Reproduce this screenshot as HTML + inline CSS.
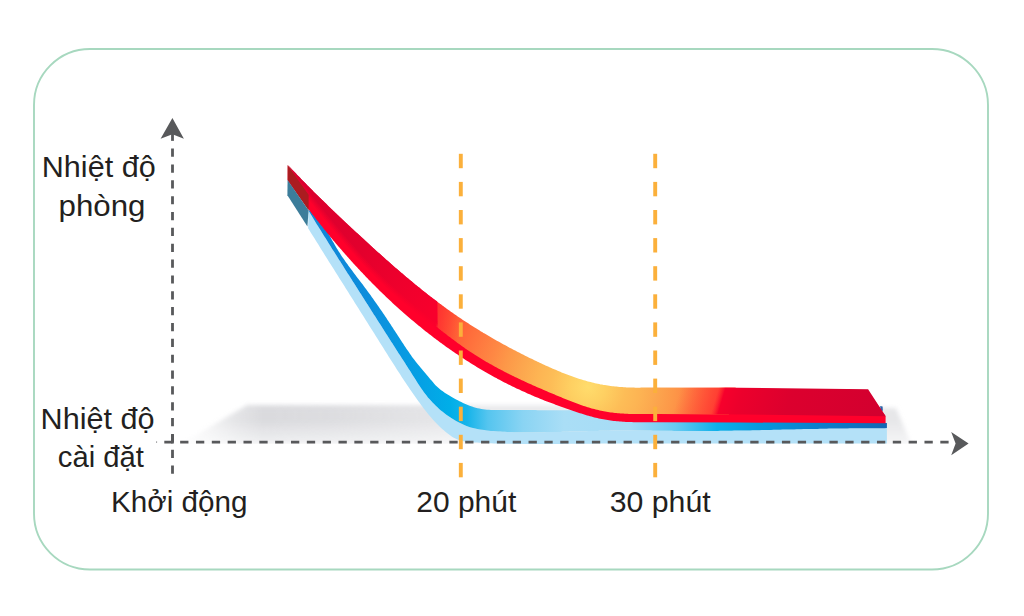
<!DOCTYPE html>
<html><head><meta charset="utf-8"><title>chart</title>
<style>
html,body{margin:0;padding:0;background:#fff;}
body{width:1024px;height:616px;overflow:hidden;font-family:"Liberation Sans",sans-serif;}
svg{display:block}
text{font-family:"Liberation Sans",sans-serif;fill:#231f20;}
</style></head><body>
<svg width="1024" height="616" viewBox="0 0 1024 616">
<defs>
<filter id="blur" x="-10%" y="-40%" width="120%" height="180%"><feGaussianBlur stdDeviation="2.2"/></filter>
<linearGradient id="shv" gradientUnits="userSpaceOnUse" x1="0" y1="404" x2="0" y2="444">
<stop offset="0" stop-color="#cccdd1" stop-opacity="0.72"/><stop offset="0.4" stop-color="#cccdd1" stop-opacity="0.74"/><stop offset="1" stop-color="#cccdd1" stop-opacity="0.28"/>
</linearGradient>
<linearGradient id="shh" gradientUnits="userSpaceOnUse" x1="181" y1="0" x2="931" y2="0">
<stop offset="0" stop-color="#111"/><stop offset="0.035" stop-color="#555"/><stop offset="0.075" stop-color="#bbb"/><stop offset="0.11" stop-color="#fff"/><stop offset="0.2" stop-color="#ececec"/><stop offset="0.33" stop-color="#b8b8b8"/><stop offset="0.4" stop-color="#8c8c8c"/><stop offset="0.9" stop-color="#8c8c8c"/><stop offset="0.94" stop-color="#a8a8a8"/><stop offset="1" stop-color="#a8a8a8"/>
</linearGradient>
<mask id="shm" maskUnits="userSpaceOnUse" x="150" y="380" width="800" height="80"><rect x="150" y="380" width="800" height="80" fill="url(#shh)"/></mask>
<radialGradient id="hot" gradientUnits="userSpaceOnUse" cx="588" cy="387" r="172">
<stop offset="0" stop-color="#ffdc6c"/><stop offset="0.1" stop-color="#fed062"/><stop offset="0.215" stop-color="#fdbd57"/><stop offset="0.3" stop-color="#fdb453"/><stop offset="0.4" stop-color="#fca64e"/><stop offset="0.5" stop-color="#fd9748"/><stop offset="0.58" stop-color="#fe8844"/><stop offset="0.7" stop-color="#ff753e"/><stop offset="0.834" stop-color="#ff6036"/><stop offset="0.92" stop-color="#ff4e33"/><stop offset="1" stop-color="#ff3d30"/>
</radialGradient>
<linearGradient id="hotL" gradientUnits="userSpaceOnUse" x1="435" y1="0" x2="458" y2="0">
<stop offset="0" stop-color="#ff1a2e" stop-opacity="0.85"/><stop offset="0.15" stop-color="#ff2a30" stop-opacity="0.6"/><stop offset="1" stop-color="#ff3430" stop-opacity="0"/>
</linearGradient>
<linearGradient id="hotR" gradientUnits="userSpaceOnUse" x1="680" y1="390" x2="720" y2="402">
<stop offset="0" stop-color="#ff3430" stop-opacity="0"/><stop offset="1" stop-color="#ff3030" stop-opacity="0.85"/>
</linearGradient>
<linearGradient id="crimL" gradientUnits="userSpaceOnUse" x1="290" y1="170" x2="436" y2="310">
<stop offset="0" stop-color="#d8002f"/><stop offset="0.5" stop-color="#e2002d"/><stop offset="1" stop-color="#f8002c"/>
</linearGradient>
<linearGradient id="crimR" gradientUnits="userSpaceOnUse" x1="715.0" y1="400.0" x2="877.9" y2="448.8">
<stop offset="0" stop-color="#ff1c2d" stop-opacity="0"/><stop offset="0.04" stop-color="#f6002c" stop-opacity="1"/><stop offset="0.14" stop-color="#ec002c"/><stop offset="0.42" stop-color="#dc002e"/><stop offset="1" stop-color="#d2002f"/>
</linearGradient>
<linearGradient id="blueg" gradientUnits="userSpaceOnUse" x1="300" y1="0" x2="887" y2="0">
<stop offset="0" stop-color="#1283d6"/><stop offset="0.12" stop-color="#0c8edc"/><stop offset="0.2" stop-color="#059fe4"/><stop offset="0.255" stop-color="#00aee8"/><stop offset="0.285" stop-color="#16b4ea"/><stop offset="0.32" stop-color="#55c5ef"/><stop offset="0.38" stop-color="#8ad4f3"/><stop offset="0.45" stop-color="#aadef6"/><stop offset="0.56" stop-color="#a6dcf6"/><stop offset="0.64" stop-color="#66caf1"/><stop offset="0.71" stop-color="#0db0ea"/><stop offset="0.78" stop-color="#059ade"/><stop offset="0.88" stop-color="#0b7fcc"/><stop offset="1" stop-color="#1466b4"/>
</linearGradient>
<clipPath id="cpL"><polygon points="280,150 436,150 437.5,340 280,340"/></clipPath>
<clipPath id="cpM"><polygon points="435.6,290 760,290 725,430 437.1,430"/></clipPath>
<clipPath id="cpR"><polygon points="700,370 900,370 900,430 700,430"/></clipPath>
</defs>
<rect x="0" y="0" width="1024" height="616" fill="#ffffff"/>
<rect x="34" y="49" width="954" height="520.5" rx="56" ry="56" fill="none" stroke="#a7d8bf" stroke-width="1.9"/>
<!-- shadow -->
<g mask="url(#shm)"><g filter="url(#blur)">
<polygon points="247,405 700,405 896,408 911,444 181,444" fill="url(#shv)"/>
</g></g>
<rect x="150" y="443.8" width="800" height="14" fill="#ffffff"/>
<!-- blue ribbon -->
<path d="M308.5,210.5 L309.7,212.5 L310.9,214.5 L312.1,216.5 L313.3,218.4 L314.5,220.4 L315.7,222.4 L316.9,224.4 L318.1,226.3 L319.3,228.3 L320.6,230.3 L321.8,232.2 L323.0,234.2 L324.2,236.2 L325.5,238.1 L326.7,240.1 L327.9,242.1 L329.1,244.0 L330.4,246.0 L331.6,247.9 L332.8,249.9 L334.1,251.8 L335.3,253.8 L336.6,255.8 L337.8,257.7 L339.0,259.7 L340.3,261.6 L341.5,263.6 L342.8,265.5 L344.0,267.5 L345.2,269.4 L346.5,271.4 L347.7,273.4 L349.0,275.3 L350.2,277.3 L351.5,279.2 L352.7,281.2 L353.9,283.1 L355.2,285.1 L356.4,287.0 L357.7,289.0 L358.9,290.9 L360.2,292.9 L361.4,294.8 L362.6,296.8 L363.9,298.7 L365.1,300.7 L366.4,302.7 L367.6,304.6 L368.8,306.6 L370.1,308.5 L371.3,310.5 L372.6,312.4 L373.8,314.4 L375.1,316.3 L376.3,318.3 L377.5,320.2 L378.8,322.2 L380.0,324.1 L381.3,326.1 L382.5,328.0 L383.8,330.0 L385.0,331.9 L386.3,333.9 L387.5,335.8 L388.7,337.8 L390.0,339.7 L391.2,341.7 L392.5,343.6 L393.7,345.6 L395.0,347.5 L396.2,349.5 L397.5,351.4 L398.7,353.4 L400.0,355.3 L401.2,357.2 L402.5,359.2 L403.7,361.1 L405.0,363.1 L406.2,365.0 L407.5,366.9 L408.7,368.9 L410.0,370.8 L411.2,372.8 L412.4,374.7 L413.7,376.7 L414.9,378.6 L416.1,380.5 L417.3,382.5 L418.6,384.4 L419.8,386.3 L421.1,388.2 L422.4,390.1 L423.7,392.0 L425.1,393.8 L426.5,395.6 L427.9,397.4 L429.4,399.1 L431.0,400.8 L432.5,402.5 L434.1,404.1 L435.8,405.7 L437.5,407.3 L439.2,408.9 L440.9,410.4 L442.7,411.8 L444.5,413.3 L446.4,414.7 L448.3,416.0 L450.2,417.3 L452.1,418.6 L454.1,419.8 L456.1,421.0 L458.1,422.1 L460.1,423.1 L462.2,424.1 L464.3,425.1 L466.5,425.9 L468.6,426.7 L470.8,427.4 L473.0,428.0 L475.2,428.6 L477.4,429.0 L479.7,429.5 L481.9,429.8 L484.2,430.1 L486.5,430.4 L488.7,430.7 L491.0,430.9 L493.3,431.1 L495.6,431.3 L497.9,431.4 L500.2,431.6 L502.5,431.7 L504.8,431.8 L507.2,431.9 L509.5,432.0 L511.8,432.1 L514.1,432.2 L516.4,432.2 L518.7,432.2 L521.1,432.3 L523.4,432.3 L525.7,432.3 L528.0,432.3 L530.3,432.3 L532.7,432.3 L535.0,432.3 L537.3,432.3 L539.6,432.2 L541.9,432.2 L544.3,432.2 L546.6,432.1 L548.9,432.1 L551.2,432.1 L553.5,432.0 L555.8,432.0 L558.2,431.9 L560.5,431.9 L562.8,431.8 L565.1,431.7 L567.4,431.7 L569.7,431.6 L572.0,431.6 L574.4,431.5 L576.7,431.4 L579.0,431.4 L581.3,431.3 L583.6,431.2 L585.9,431.2 L588.2,431.1 L590.6,431.1 L592.9,431.0 L595.2,430.9 L597.5,430.9 L599.8,430.8 L602.1,430.8 L604.4,430.7 L606.8,430.7 L609.1,430.7 L611.4,430.6 L613.7,430.6 L616.0,430.6 L618.3,430.5 L620.6,430.5 L623.0,430.5 L625.3,430.5 L627.6,430.5 L629.9,430.5 L632.2,430.5 L634.5,430.5 L636.8,430.5 L639.2,430.5 L641.5,430.6 L643.8,430.6 L646.1,430.6 L648.4,430.6 L650.7,430.6 L653.1,430.7 L655.4,430.7 L657.7,430.7 L660.0,430.7 L662.3,430.8 L664.6,430.8 L666.9,430.8 L669.3,430.8 L671.6,430.8 L673.9,430.9 L676.2,430.9 L678.5,430.9 L680.8,430.9 L683.2,430.9 L685.5,430.9 L687.8,430.9 L690.1,431.0 L692.4,431.0 L694.7,431.0 L697.1,431.0 L699.4,431.0 L701.7,431.0 L704.0,430.9 L706.3,430.9 L708.6,430.9 L710.9,430.9 L713.3,430.9 L715.6,430.9 L717.9,430.9 L720.2,430.8 L722.5,430.8 L724.8,430.8 L727.1,430.7 L729.5,430.7 L731.8,430.7 L734.1,430.6 L736.4,430.6 L738.7,430.6 L741.0,430.5 L743.4,430.5 L745.7,430.4 L748.0,430.4 L750.3,430.4 L752.6,430.3 L754.9,430.3 L757.2,430.2 L759.6,430.2 L761.9,430.1 L764.2,430.1 L766.5,430.0 L768.8,430.0 L771.1,429.9 L773.5,429.8 L775.8,429.8 L778.1,429.7 L780.4,429.7 L782.7,429.6 L785.0,429.6 L787.3,429.5 L789.7,429.5 L792.0,429.4 L794.3,429.4 L796.6,429.3 L798.9,429.3 L801.2,429.2 L803.5,429.1 L805.9,429.1 L808.2,429.0 L810.5,429.0 L812.8,428.9 L815.1,428.9 L817.4,428.9 L819.8,428.8 L822.1,428.8 L824.4,428.7 L826.7,428.7 L829.0,428.6 L831.3,428.6 L833.6,428.6 L836.0,428.5 L838.3,428.5 L840.6,428.4 L842.9,428.4 L845.2,428.4 L847.5,428.4 L849.9,428.3 L852.2,428.3 L854.5,428.3 L856.8,428.3 L859.1,428.2 L861.4,428.2 L863.7,428.2 L866.1,428.2 L868.4,428.2 L870.7,428.2 L873.0,428.2 L875.3,428.2 L877.6,428.2 L880.0,428.2 L882.3,428.2 L884.6,428.2 L886.9,428.1 L886.9,443.6 L884.5,443.6 L882.0,443.6 L879.6,443.6 L877.1,443.6 L874.7,443.6 L872.3,443.6 L869.8,443.6 L867.4,443.6 L864.9,443.6 L862.5,443.6 L860.1,443.6 L857.6,443.6 L855.2,443.6 L852.7,443.6 L850.3,443.6 L847.8,443.6 L845.4,443.6 L843.0,443.6 L840.5,443.6 L838.1,443.6 L835.6,443.6 L833.2,443.6 L830.8,443.6 L828.3,443.6 L825.9,443.6 L823.4,443.6 L821.0,443.6 L818.6,443.6 L816.1,443.6 L813.7,443.6 L811.2,443.6 L808.8,443.6 L806.4,443.6 L803.9,443.6 L801.5,443.6 L799.0,443.6 L796.6,443.6 L794.1,443.6 L791.7,443.6 L789.3,443.6 L786.8,443.6 L784.4,443.6 L781.9,443.6 L779.5,443.6 L777.1,443.6 L774.6,443.6 L772.2,443.6 L769.7,443.6 L767.3,443.6 L764.9,443.6 L762.4,443.6 L760.0,443.6 L757.5,443.6 L755.1,443.6 L752.6,443.6 L750.2,443.6 L747.8,443.6 L745.3,443.6 L742.9,443.6 L740.4,443.6 L738.0,443.6 L735.6,443.6 L733.1,443.6 L730.7,443.6 L728.2,443.6 L725.8,443.6 L723.4,443.6 L720.9,443.6 L718.5,443.6 L716.0,443.6 L713.6,443.6 L711.2,443.6 L708.7,443.6 L706.3,443.6 L703.8,443.6 L701.4,443.6 L698.9,443.6 L696.5,443.6 L694.1,443.6 L691.6,443.6 L689.2,443.6 L686.7,443.6 L684.3,443.6 L681.9,443.6 L679.4,443.6 L677.0,443.6 L674.5,443.6 L672.1,443.6 L669.7,443.6 L667.2,443.6 L664.8,443.6 L662.3,443.6 L659.9,443.6 L657.5,443.6 L655.0,443.6 L652.6,443.6 L650.1,443.6 L647.7,443.6 L645.3,443.6 L642.8,443.6 L640.4,443.6 L637.9,443.6 L635.5,443.6 L633.1,443.6 L630.6,443.6 L628.2,443.6 L625.7,443.6 L623.3,443.6 L620.8,443.6 L618.4,443.6 L616.0,443.6 L613.5,443.6 L611.1,443.6 L608.6,443.6 L606.2,443.6 L603.8,443.6 L601.3,443.6 L598.9,443.6 L596.4,443.6 L594.0,443.6 L591.5,443.7 L589.1,443.7 L586.7,443.7 L584.2,443.7 L581.8,443.7 L579.3,443.7 L576.9,443.7 L574.4,443.8 L572.0,443.8 L569.5,443.8 L567.1,443.8 L564.7,443.8 L562.2,443.9 L559.8,443.9 L557.3,443.9 L554.9,443.9 L552.4,443.9 L550.0,443.9 L547.6,443.9 L545.1,444.0 L542.7,444.0 L540.2,444.0 L537.8,444.0 L535.3,444.0 L532.9,444.0 L530.5,444.0 L528.0,444.0 L525.6,444.0 L523.1,443.9 L520.7,443.9 L518.3,443.9 L515.8,443.9 L513.4,443.8 L511.0,443.8 L508.5,443.7 L506.1,443.7 L503.7,443.6 L501.2,443.6 L498.8,443.5 L496.4,443.4 L493.9,443.4 L491.5,443.3 L489.1,443.2 L486.7,443.1 L484.2,443.0 L481.8,442.8 L479.4,442.7 L477.0,442.6 L474.6,442.4 L472.2,442.3 L469.7,442.1 L467.4,441.8 L465.0,441.5 L462.7,441.0 L460.4,440.5 L458.1,439.7 L455.9,438.8 L453.8,437.7 L451.7,436.4 L449.7,435.0 L447.7,433.5 L445.7,431.9 L443.8,430.3 L441.9,428.7 L440.1,427.0 L438.3,425.2 L436.6,423.5 L434.9,421.7 L433.2,419.9 L431.6,418.1 L430.0,416.2 L428.5,414.4 L426.9,412.5 L425.4,410.6 L423.9,408.7 L422.5,406.7 L421.0,404.8 L419.6,402.8 L418.2,400.9 L416.8,398.9 L415.4,396.9 L414.0,394.9 L412.6,393.0 L411.2,391.0 L409.8,389.0 L408.5,387.0 L407.1,384.9 L405.8,382.9 L404.4,380.9 L403.1,378.9 L401.7,376.9 L400.4,374.8 L399.1,372.8 L397.7,370.7 L396.4,368.7 L395.1,366.6 L393.8,364.6 L392.5,362.5 L391.2,360.5 L389.9,358.4 L388.6,356.4 L387.3,354.3 L386.0,352.2 L384.7,350.2 L383.4,348.1 L382.1,346.0 L380.8,344.0 L379.5,341.9 L378.2,339.8 L376.9,337.8 L375.6,335.7 L374.3,333.6 L373.0,331.6 L371.7,329.5 L370.4,327.4 L369.1,325.4 L367.8,323.3 L366.5,321.2 L365.2,319.2 L363.9,317.1 L362.6,315.0 L361.3,313.0 L360.0,310.9 L358.7,308.8 L357.4,306.8 L356.1,304.7 L354.8,302.7 L353.5,300.6 L352.2,298.5 L350.9,296.5 L349.6,294.4 L348.3,292.3 L347.0,290.3 L345.7,288.2 L344.4,286.1 L343.1,284.1 L341.8,282.0 L340.5,280.0 L339.2,277.9 L337.9,275.8 L336.6,273.8 L335.3,271.7 L334.0,269.6 L332.7,267.6 L331.4,265.5 L330.1,263.4 L328.8,261.4 L327.5,259.3 L326.2,257.2 L324.9,255.2 L323.6,253.1 L322.3,251.0 L321.0,249.0 L319.8,246.9 L318.5,244.8 L317.2,242.8 L315.9,240.7 L314.6,238.6 L313.3,236.5 L312.0,234.5 L310.7,232.4 L309.4,230.3 L308.1,228.3 Z" fill="#b4e1f8"/>
<path d="M310.0,210.3 L311.5,211.6 L313.0,212.9 L314.4,214.2 L315.8,215.6 L317.1,217.1 L318.3,218.5 L319.5,220.0 L320.7,221.6 L321.8,223.1 L322.9,224.7 L324.0,226.3 L325.0,227.9 L326.0,229.6 L327.0,231.3 L328.0,232.9 L329.0,234.6 L329.9,236.3 L330.9,238.0 L331.8,239.7 L332.8,241.4 L333.8,243.1 L334.7,244.8 L335.7,246.5 L336.7,248.2 L337.7,249.8 L338.7,251.5 L339.8,253.1 L340.8,254.7 L341.9,256.4 L343.0,258.0 L344.1,259.6 L345.2,261.2 L346.3,262.8 L347.5,264.3 L348.6,265.9 L349.8,267.5 L350.9,269.1 L352.1,270.6 L353.3,272.2 L354.4,273.7 L355.6,275.3 L356.8,276.9 L358.0,278.4 L359.2,280.0 L360.3,281.5 L361.5,283.1 L362.7,284.6 L363.9,286.2 L365.0,287.8 L366.2,289.3 L367.4,290.9 L368.5,292.5 L369.7,294.0 L370.8,295.6 L371.9,297.2 L373.1,298.8 L374.2,300.4 L375.3,302.0 L376.4,303.6 L377.6,305.2 L378.7,306.8 L379.8,308.4 L380.9,310.0 L382.0,311.6 L383.1,313.2 L384.2,314.8 L385.3,316.4 L386.4,318.0 L387.4,319.7 L388.5,321.3 L389.6,322.9 L390.7,324.5 L391.7,326.2 L392.8,327.8 L393.8,329.4 L394.9,331.0 L396.0,332.7 L397.0,334.3 L398.1,336.0 L399.1,337.6 L400.2,339.2 L401.2,340.8 L402.3,342.5 L403.4,344.1 L404.4,345.7 L405.5,347.3 L406.6,348.9 L407.7,350.5 L408.8,352.1 L409.9,353.7 L411.0,355.3 L412.1,356.9 L413.3,358.4 L414.5,360.0 L415.6,361.5 L416.8,363.0 L418.0,364.6 L419.3,366.1 L420.5,367.5 L421.8,369.0 L423.0,370.5 L424.3,372.0 L425.6,373.4 L426.8,374.9 L428.1,376.4 L429.3,377.9 L430.5,379.4 L431.8,380.8 L433.0,382.3 L434.2,383.8 L435.5,385.2 L436.9,386.5 L438.3,387.8 L439.7,389.0 L441.2,390.2 L442.8,391.3 L444.3,392.4 L445.9,393.5 L447.6,394.5 L449.3,395.5 L450.9,396.5 L452.6,397.5 L454.3,398.4 L456.1,399.4 L457.8,400.3 L459.5,401.2 L461.3,402.1 L463.0,402.9 L464.8,403.8 L466.6,404.5 L468.4,405.3 L470.2,406.0 L472.0,406.6 L473.9,407.2 L475.7,407.7 L477.6,408.2 L479.5,408.6 L481.3,409.0 L483.2,409.3 L485.1,409.5 L487.0,409.7 L489.0,409.8 L490.9,409.9 L492.8,410.0 L494.8,410.1 L496.7,410.1 L498.7,410.1 L500.6,410.1 L502.5,410.1 L504.5,410.1 L506.4,410.1 L508.4,410.1 L510.3,410.1 L512.3,410.1 L514.2,410.1 L516.2,410.1 L518.1,410.1 L520.1,410.1 L522.0,410.1 L524.0,410.1 L525.9,410.1 L527.9,410.1 L529.8,410.1 L531.8,410.1 L533.7,410.1 L535.7,410.1 L537.6,410.2 L539.6,410.2 L541.5,410.2 L543.5,410.2 L545.4,410.2 L547.4,410.2 L549.3,410.2 L551.3,410.2 L553.2,410.2 L555.2,410.2 L557.1,410.2 L559.1,410.2 L561.0,410.2 L563.0,410.2 L564.9,410.2 L566.9,410.3 L568.8,410.3 L570.8,410.3 L572.7,410.3 L574.7,410.3 L576.6,410.3 L578.6,410.3 L580.5,410.3 L582.5,410.3 L584.4,410.3 L586.4,410.3 L588.3,410.3 L590.3,410.3 L592.2,410.3 L594.2,410.3 L596.1,410.3 L598.1,410.3 L600.0,410.3 L886.9,423.0 L886.9,428.1 L884.6,428.2 L882.3,428.2 L880.0,428.2 L877.6,428.2 L875.3,428.2 L873.0,428.2 L870.7,428.2 L868.4,428.2 L866.1,428.2 L863.7,428.2 L861.4,428.2 L859.1,428.2 L856.8,428.3 L854.5,428.3 L852.2,428.3 L849.9,428.3 L847.5,428.4 L845.2,428.4 L842.9,428.4 L840.6,428.4 L838.3,428.5 L836.0,428.5 L833.6,428.6 L831.3,428.6 L829.0,428.6 L826.7,428.7 L824.4,428.7 L822.1,428.8 L819.8,428.8 L817.4,428.9 L815.1,428.9 L812.8,428.9 L810.5,429.0 L808.2,429.0 L805.9,429.1 L803.5,429.1 L801.2,429.2 L798.9,429.3 L796.6,429.3 L794.3,429.4 L792.0,429.4 L789.7,429.5 L787.3,429.5 L785.0,429.6 L782.7,429.6 L780.4,429.7 L778.1,429.7 L775.8,429.8 L773.5,429.8 L771.1,429.9 L768.8,430.0 L766.5,430.0 L764.2,430.1 L761.9,430.1 L759.6,430.2 L757.2,430.2 L754.9,430.3 L752.6,430.3 L750.3,430.4 L748.0,430.4 L745.7,430.4 L743.4,430.5 L741.0,430.5 L738.7,430.6 L736.4,430.6 L734.1,430.6 L731.8,430.7 L729.5,430.7 L727.1,430.7 L724.8,430.8 L722.5,430.8 L720.2,430.8 L717.9,430.9 L715.6,430.9 L713.3,430.9 L710.9,430.9 L708.6,430.9 L706.3,430.9 L704.0,430.9 L701.7,431.0 L699.4,431.0 L697.1,431.0 L694.7,431.0 L692.4,431.0 L690.1,431.0 L687.8,430.9 L685.5,430.9 L683.2,430.9 L680.8,430.9 L678.5,430.9 L676.2,430.9 L673.9,430.9 L671.6,430.8 L669.3,430.8 L666.9,430.8 L664.6,430.8 L662.3,430.8 L660.0,430.7 L657.7,430.7 L655.4,430.7 L653.1,430.7 L650.7,430.6 L648.4,430.6 L646.1,430.6 L643.8,430.6 L641.5,430.6 L639.2,430.5 L636.8,430.5 L634.5,430.5 L632.2,430.5 L629.9,430.5 L627.6,430.5 L625.3,430.5 L623.0,430.5 L620.6,430.5 L618.3,430.5 L616.0,430.6 L613.7,430.6 L611.4,430.6 L609.1,430.7 L606.8,430.7 L604.4,430.7 L602.1,430.8 L599.8,430.8 L597.5,430.9 L595.2,430.9 L592.9,431.0 L590.6,431.1 L588.2,431.1 L585.9,431.2 L583.6,431.2 L581.3,431.3 L579.0,431.4 L576.7,431.4 L574.4,431.5 L572.0,431.6 L569.7,431.6 L567.4,431.7 L565.1,431.7 L562.8,431.8 L560.5,431.9 L558.2,431.9 L555.8,432.0 L553.5,432.0 L551.2,432.1 L548.9,432.1 L546.6,432.1 L544.3,432.2 L541.9,432.2 L539.6,432.2 L537.3,432.3 L535.0,432.3 L532.7,432.3 L530.3,432.3 L528.0,432.3 L525.7,432.3 L523.4,432.3 L521.1,432.3 L518.7,432.2 L516.4,432.2 L514.1,432.2 L511.8,432.1 L509.5,432.0 L507.2,431.9 L504.8,431.8 L502.5,431.7 L500.2,431.6 L497.9,431.4 L495.6,431.3 L493.3,431.1 L491.0,430.9 L488.7,430.7 L486.5,430.4 L484.2,430.1 L481.9,429.8 L479.7,429.5 L477.4,429.0 L475.2,428.6 L473.0,428.0 L470.8,427.4 L468.6,426.7 L466.5,425.9 L464.3,425.1 L462.2,424.1 L460.1,423.1 L458.1,422.1 L456.1,421.0 L454.1,419.8 L452.1,418.6 L450.2,417.3 L448.3,416.0 L446.4,414.7 L444.5,413.3 L442.7,411.8 L440.9,410.4 L439.2,408.9 L437.5,407.3 L435.8,405.7 L434.1,404.1 L432.5,402.5 L431.0,400.8 L429.4,399.1 L427.9,397.4 L426.5,395.6 L425.1,393.8 L423.7,392.0 L422.4,390.1 L421.1,388.2 L419.8,386.3 L418.6,384.4 L417.3,382.5 L416.1,380.5 L414.9,378.6 L413.7,376.7 L412.4,374.7 L411.2,372.8 L410.0,370.8 L408.7,368.9 L407.5,366.9 L406.2,365.0 L405.0,363.1 L403.7,361.1 L402.5,359.2 L401.2,357.2 L400.0,355.3 L398.7,353.4 L397.5,351.4 L396.2,349.5 L395.0,347.5 L393.7,345.6 L392.5,343.6 L391.2,341.7 L390.0,339.7 L388.7,337.8 L387.5,335.8 L386.3,333.9 L385.0,331.9 L383.8,330.0 L382.5,328.0 L381.3,326.1 L380.0,324.1 L378.8,322.2 L377.5,320.2 L376.3,318.3 L375.1,316.3 L373.8,314.4 L372.6,312.4 L371.3,310.5 L370.1,308.5 L368.8,306.6 L367.6,304.6 L366.4,302.7 L365.1,300.7 L363.9,298.7 L362.6,296.8 L361.4,294.8 L360.2,292.9 L358.9,290.9 L357.7,289.0 L356.4,287.0 L355.2,285.1 L353.9,283.1 L352.7,281.2 L351.5,279.2 L350.2,277.3 L349.0,275.3 L347.7,273.4 L346.5,271.4 L345.2,269.4 L344.0,267.5 L342.8,265.5 L341.5,263.6 L340.3,261.6 L339.0,259.7 L337.8,257.7 L336.6,255.8 L335.3,253.8 L334.1,251.8 L332.8,249.9 L331.6,247.9 L330.4,246.0 L329.1,244.0 L327.9,242.1 L326.7,240.1 L325.5,238.1 L324.2,236.2 L323.0,234.2 L321.8,232.2 L320.6,230.3 L319.3,228.3 L318.1,226.3 L316.9,224.4 L315.7,222.4 L314.5,220.4 L313.3,218.4 L312.1,216.5 L310.9,214.5 L309.7,212.5 L308.5,210.5 Z" fill="url(#blueg)"/>
<polygon points="880.2,406.0 882.6,406.6 882.9,411 880.4,410" fill="#2a62a8"/>
<!-- red ribbon -->
<path d="M287.8,165.3 L288.4,166.8 L289.4,167.8 L290.4,168.9 L291.4,169.9 L292.4,171.0 L293.4,172.1 L294.4,173.1 L295.4,174.2 L296.4,175.2 L297.5,176.3 L298.5,177.3 L299.5,178.4 L300.5,179.4 L301.5,180.5 L302.6,181.5 L303.6,182.6 L304.6,183.6 L305.6,184.7 L306.7,185.7 L307.7,186.8 L308.7,187.8 L309.7,188.8 L310.8,189.9 L311.8,190.9 L312.8,191.9 L313.9,193.0 L314.9,194.0 L316.0,195.0 L317.0,196.0 L318.0,197.1 L319.1,198.1 L320.1,199.1 L321.1,200.1 L322.2,201.2 L323.2,202.2 L324.3,203.2 L325.3,204.2 L326.4,205.2 L327.4,206.2 L328.5,207.2 L329.5,208.3 L330.6,209.3 L331.6,210.3 L332.7,211.3 L333.7,212.3 L334.8,213.3 L335.8,214.3 L336.9,215.3 L337.9,216.3 L339.0,217.3 L340.1,218.3 L341.1,219.3 L342.2,220.3 L343.2,221.3 L344.3,222.3 L345.4,223.3 L346.4,224.3 L347.5,225.3 L348.5,226.3 L349.6,227.3 L350.7,228.3 L351.7,229.3 L352.8,230.3 L353.9,231.3 L354.9,232.2 L356.0,233.2 L357.1,234.2 L358.2,235.2 L359.2,236.2 L360.3,237.2 L361.4,238.2 L362.5,239.2 L363.5,240.2 L364.6,241.1 L365.7,242.1 L366.8,243.1 L367.8,244.1 L368.9,245.1 L370.0,246.1 L371.1,247.1 L372.2,248.0 L373.2,249.0 L374.3,250.0 L375.4,251.0 L376.5,252.0 L377.6,253.0 L378.7,253.9 L379.8,254.9 L380.8,255.9 L381.9,256.9 L383.0,257.8 L384.1,258.8 L385.2,259.8 L386.3,260.8 L387.4,261.7 L388.5,262.7 L389.6,263.7 L390.7,264.6 L391.8,265.6 L392.9,266.6 L394.0,267.5 L395.1,268.5 L396.2,269.4 L397.3,270.4 L398.4,271.4 L399.5,272.3 L400.7,273.3 L401.8,274.2 L402.9,275.2 L404.0,276.1 L405.1,277.1 L406.2,278.0 L407.4,278.9 L408.5,279.9 L409.6,280.8 L410.7,281.8 L411.9,282.7 L413.0,283.6 L414.1,284.6 L415.2,285.5 L416.4,286.4 L417.5,287.3 L418.6,288.2 L419.8,289.2 L420.9,290.1 L422.1,291.0 L423.2,291.9 L424.4,292.8 L425.5,293.7 L426.7,294.6 L427.8,295.5 L429.0,296.4 L430.1,297.3 L431.3,298.2 L432.4,299.1 L433.6,300.0 L434.7,300.9 L435.9,301.8 L437.1,302.6 L438.2,303.5 L439.4,304.4 L440.6,305.2 L441.8,306.1 L442.9,307.0 L444.1,307.8 L445.3,308.7 L446.5,309.5 L447.7,310.4 L448.9,311.2 L450.0,312.1 L451.2,312.9 L452.4,313.8 L453.6,314.6 L454.8,315.4 L456.0,316.2 L457.2,317.1 L458.4,317.9 L459.6,318.7 L460.8,319.5 L462.1,320.3 L463.3,321.1 L464.5,321.9 L465.7,322.7 L466.9,323.5 L468.2,324.3 L469.4,325.1 L470.6,325.9 L471.8,326.7 L473.1,327.4 L474.3,328.2 L475.5,329.0 L476.8,329.8 L478.0,330.5 L479.3,331.3 L480.5,332.0 L481.7,332.8 L483.0,333.5 L484.2,334.3 L485.5,335.0 L486.7,335.8 L488.0,336.5 L489.3,337.2 L490.5,338.0 L491.8,338.7 L493.0,339.4 L494.3,340.2 L495.6,340.9 L496.9,341.6 L498.1,342.3 L499.4,343.0 L500.7,343.7 L502.0,344.4 L503.2,345.1 L504.5,345.8 L505.8,346.5 L507.1,347.2 L508.4,347.9 L509.7,348.6 L510.9,349.3 L512.2,350.0 L513.5,350.6 L514.8,351.3 L516.1,352.0 L517.4,352.7 L518.7,353.3 L520.0,354.0 L521.3,354.7 L522.6,355.3 L524.0,356.0 L525.3,356.6 L526.6,357.3 L527.9,357.9 L529.2,358.6 L530.5,359.2 L531.8,359.9 L533.2,360.5 L534.5,361.1 L535.8,361.8 L537.1,362.4 L538.5,363.0 L539.8,363.6 L541.1,364.3 L542.5,364.9 L543.8,365.5 L545.1,366.1 L546.5,366.7 L547.8,367.3 L549.2,367.9 L550.5,368.5 L551.8,369.1 L553.2,369.7 L554.5,370.3 L555.9,370.9 L557.3,371.4 L558.6,372.0 L560.0,372.6 L561.3,373.1 L562.7,373.7 L564.1,374.2 L565.4,374.7 L566.8,375.3 L568.2,375.8 L569.5,376.3 L570.9,376.8 L572.3,377.3 L573.7,377.8 L575.1,378.3 L576.5,378.7 L577.8,379.2 L579.2,379.7 L580.6,380.1 L582.0,380.5 L583.4,380.9 L584.8,381.4 L586.2,381.8 L587.6,382.1 L589.1,382.5 L590.5,382.9 L591.9,383.3 L593.3,383.6 L594.7,383.9 L596.2,384.3 L597.6,384.6 L599.0,384.9 L600.4,385.1 L601.9,385.4 L603.3,385.7 L604.8,385.9 L606.2,386.1 L607.6,386.4 L609.1,386.6 L610.5,386.8 L612.0,386.9 L613.4,387.1 L614.9,387.3 L616.4,387.4 L617.8,387.6 L619.3,387.7 L620.7,387.8 L622.2,387.9 L623.7,388.0 L625.1,388.1 L626.6,388.2 L628.1,388.3 L629.5,388.3 L631.0,388.4 L632.4,388.4 L633.9,388.4 L635.4,388.5 L636.9,388.5 L638.3,388.5 L639.8,388.5 L641.3,388.4 L642.7,388.4 L644.2,388.4 L645.7,388.3 L647.1,388.3 L648.6,388.2 L650.0,388.3 L740.0,388.5 L867.2,390.0 L885.6,416.0 L885.6,423.3 L740.0,422.5 L658.0,422.3 L650.0,422.2 L648.5,422.2 L647.0,422.2 L645.5,422.3 L644.0,422.3 L642.4,422.3 L640.9,422.3 L639.4,422.3 L637.9,422.3 L636.4,422.2 L634.9,422.2 L633.4,422.2 L631.8,422.1 L630.3,422.1 L628.8,422.0 L627.3,422.0 L625.8,421.9 L624.3,421.8 L622.8,421.7 L621.2,421.6 L619.7,421.5 L618.2,421.3 L616.7,421.2 L615.2,421.0 L613.7,420.9 L612.2,420.7 L610.7,420.5 L609.2,420.3 L607.7,420.1 L606.2,419.8 L604.7,419.6 L603.3,419.3 L601.8,419.0 L600.3,418.7 L598.8,418.4 L597.3,418.1 L595.9,417.7 L594.4,417.4 L592.9,417.0 L591.5,416.6 L590.0,416.2 L588.6,415.8 L587.1,415.4 L585.7,415.0 L584.2,414.5 L582.8,414.1 L581.3,413.6 L579.9,413.2 L578.4,412.7 L577.0,412.2 L575.6,411.7 L574.1,411.3 L572.7,410.8 L571.2,410.3 L569.8,409.8 L568.4,409.3 L566.9,408.8 L565.5,408.3 L564.1,407.8 L562.7,407.3 L561.2,406.7 L559.8,406.2 L558.4,405.7 L557.0,405.2 L555.5,404.7 L554.1,404.1 L552.7,403.6 L551.3,403.1 L549.9,402.5 L548.4,402.0 L547.0,401.5 L545.6,400.9 L544.2,400.4 L542.8,399.8 L541.4,399.2 L540.0,398.7 L538.6,398.1 L537.2,397.5 L535.8,397.0 L534.4,396.4 L533.0,395.8 L531.7,395.2 L530.3,394.6 L528.9,394.0 L527.5,393.4 L526.1,392.8 L524.7,392.1 L523.4,391.5 L522.0,390.9 L520.6,390.3 L519.3,389.6 L517.9,389.0 L516.5,388.4 L515.2,387.7 L513.8,387.1 L512.5,386.4 L511.1,385.7 L509.8,385.1 L508.4,384.4 L507.1,383.7 L505.7,383.0 L504.4,382.4 L503.0,381.7 L501.7,381.0 L500.4,380.3 L499.0,379.6 L497.7,378.9 L496.4,378.1 L495.0,377.4 L493.7,376.7 L492.4,376.0 L491.1,375.2 L489.8,374.5 L488.4,373.8 L487.1,373.0 L485.8,372.3 L484.5,371.5 L483.2,370.8 L481.9,370.0 L480.6,369.2 L479.3,368.5 L478.0,367.7 L476.7,366.9 L475.4,366.1 L474.1,365.3 L472.8,364.5 L471.6,363.7 L470.3,362.9 L469.0,362.1 L467.7,361.3 L466.4,360.5 L465.2,359.7 L463.9,358.8 L462.6,358.0 L461.4,357.2 L460.1,356.3 L458.8,355.5 L457.6,354.6 L456.3,353.8 L455.1,352.9 L453.8,352.1 L452.6,351.2 L451.3,350.3 L450.1,349.5 L448.8,348.6 L447.6,347.7 L446.4,346.9 L445.1,346.0 L443.9,345.1 L442.7,344.2 L441.5,343.3 L440.2,342.4 L439.0,341.5 L437.8,340.6 L436.6,339.7 L435.4,338.8 L434.2,337.9 L433.0,336.9 L431.8,336.0 L430.6,335.1 L429.4,334.2 L428.2,333.2 L427.0,332.3 L425.8,331.4 L424.6,330.4 L423.4,329.5 L422.2,328.5 L421.1,327.6 L419.9,326.6 L418.7,325.7 L417.6,324.7 L416.4,323.7 L415.2,322.8 L414.1,321.8 L412.9,320.8 L411.8,319.9 L410.6,318.9 L409.5,317.9 L408.3,316.9 L407.2,315.9 L406.0,315.0 L404.9,314.0 L403.7,313.0 L402.6,312.0 L401.5,311.0 L400.3,310.0 L399.2,309.0 L398.1,307.9 L397.0,306.9 L395.9,305.9 L394.7,304.9 L393.6,303.9 L392.5,302.9 L391.4,301.8 L390.3,300.8 L389.2,299.8 L388.1,298.7 L387.0,297.7 L385.9,296.7 L384.8,295.6 L383.7,294.6 L382.6,293.5 L381.6,292.5 L380.5,291.4 L379.4,290.4 L378.3,289.3 L377.3,288.2 L376.2,287.2 L375.1,286.1 L374.0,285.1 L373.0,284.0 L371.9,282.9 L370.9,281.8 L369.8,280.8 L368.7,279.7 L367.7,278.6 L366.6,277.5 L365.6,276.4 L364.6,275.3 L363.5,274.2 L362.5,273.1 L361.4,272.0 L360.4,270.9 L359.4,269.8 L358.3,268.7 L357.3,267.6 L356.3,266.5 L355.3,265.4 L354.2,264.3 L353.2,263.2 L352.2,262.1 L351.2,260.9 L350.2,259.8 L349.2,258.7 L348.2,257.6 L347.2,256.4 L346.2,255.3 L345.2,254.2 L344.2,253.0 L343.2,251.9 L342.2,250.8 L341.2,249.6 L340.2,248.5 L339.2,247.3 L338.2,246.2 L337.2,245.0 L336.3,243.9 L335.3,242.7 L334.3,241.6 L333.3,240.4 L332.4,239.2 L331.4,238.1 L330.4,236.9 L329.5,235.7 L328.5,234.6 L327.6,233.4 L326.6,232.2 L325.7,231.1 L324.7,229.9 L323.7,228.7 L322.8,227.5 L321.9,226.3 L320.9,225.2 L320.0,224.0 L319.0,222.8 L318.1,221.6 L317.2,220.4 L316.2,219.2 L315.3,218.0 L314.4,216.8 L313.4,215.6 L312.5,214.4 L311.6,213.2 L310.7,212.0 L309.8,210.8 L308.8,209.6 L307.9,208.4 L307.0,207.2 L306.1,206.0 L305.2,204.8 L304.3,203.6 L303.4,202.3 L302.5,201.1 L301.6,199.9 L300.7,198.7 L299.8,197.5 L298.9,196.3 L298.0,195.0 L297.1,193.8 L296.2,192.6 L295.4,191.3 L294.5,190.1 L293.6,188.9 L292.7,187.7 L291.8,186.4 L291.0,185.2 L290.1,183.9 L289.2,182.7 L288.3,181.5 L287.7,180.1 Z" fill="#ff002b"/>
<g clip-path="url(#cpM)"><path d="M287.8,165.3 L288.9,166.2 L289.9,167.2 L290.9,168.3 L292.0,169.4 L293.0,170.4 L294.0,171.5 L295.0,172.6 L296.0,173.6 L297.0,174.7 L298.0,175.7 L299.1,176.8 L300.1,177.8 L301.1,178.9 L302.1,179.9 L303.1,181.0 L304.2,182.0 L305.2,183.1 L306.2,184.1 L307.2,185.2 L308.3,186.2 L309.3,187.2 L310.3,188.3 L311.3,189.3 L312.4,190.3 L313.4,191.4 L314.4,192.4 L315.5,193.4 L316.5,194.4 L317.6,195.5 L318.6,196.5 L319.6,197.5 L320.7,198.5 L321.7,199.6 L322.8,200.6 L323.8,201.6 L324.8,202.6 L325.9,203.6 L326.9,204.6 L328.0,205.7 L329.0,206.7 L330.1,207.7 L331.1,208.7 L332.2,209.7 L333.2,210.7 L334.3,211.7 L335.3,212.7 L336.4,213.7 L337.4,214.7 L338.5,215.7 L339.5,216.7 L340.6,217.7 L341.7,218.7 L342.7,219.7 L343.8,220.7 L344.8,221.7 L345.9,222.7 L347.0,223.7 L348.0,224.7 L349.1,225.7 L350.2,226.7 L351.2,227.7 L352.3,228.7 L353.4,229.7 L354.4,230.7 L355.5,231.7 L356.6,232.7 L357.6,233.6 L358.7,234.6 L359.8,235.6 L360.8,236.6 L361.9,237.6 L363.0,238.6 L364.1,239.6 L365.1,240.6 L366.2,241.5 L367.3,242.5 L368.4,243.5 L369.5,244.5 L370.5,245.5 L371.6,246.5 L372.7,247.5 L373.8,248.4 L374.9,249.4 L375.9,250.4 L377.0,251.4 L378.1,252.4 L379.2,253.3 L380.3,254.3 L381.4,255.3 L382.5,256.3 L383.6,257.2 L384.7,258.2 L385.7,259.2 L386.8,260.2 L387.9,261.1 L389.0,262.1 L390.1,263.1 L391.2,264.0 L392.3,265.0 L393.4,266.0 L394.5,266.9 L395.6,267.9 L396.7,268.8 L397.9,269.8 L399.0,270.7 L400.1,271.7 L401.2,272.7 L402.3,273.6 L403.4,274.6 L404.5,275.5 L405.6,276.4 L406.8,277.4 L407.9,278.3 L409.0,279.3 L410.1,280.2 L411.2,281.1 L412.4,282.1 L413.5,283.0 L414.6,283.9 L415.8,284.9 L416.9,285.8 L418.0,286.7 L419.2,287.6 L420.3,288.5 L421.4,289.5 L422.6,290.4 L423.7,291.3 L424.9,292.2 L426.0,293.1 L427.1,294.0 L428.3,294.9 L429.4,295.8 L430.6,296.7 L431.8,297.6 L432.9,298.5 L434.1,299.3 L435.2,300.2 L436.4,301.1 L437.6,302.0 L438.7,302.9 L439.9,303.7 L441.1,304.6 L442.2,305.5 L443.4,306.3 L444.6,307.2 L445.8,308.0 L446.9,308.9 L448.1,309.7 L449.3,310.6 L450.5,311.4 L451.7,312.3 L452.9,313.1 L454.1,313.9 L455.3,314.8 L456.5,315.6 L457.7,316.4 L458.9,317.2 L460.1,318.0 L461.3,318.8 L462.5,319.7 L463.7,320.5 L464.9,321.3 L466.1,322.1 L467.4,322.8 L468.6,323.6 L469.8,324.4 L471.0,325.2 L472.3,326.0 L473.5,326.8 L474.7,327.5 L476.0,328.3 L477.2,329.1 L478.4,329.8 L479.7,330.6 L480.9,331.4 L482.2,332.1 L483.4,332.9 L484.7,333.6 L485.9,334.3 L487.2,335.1 L488.4,335.8 L489.7,336.6 L490.9,337.3 L492.2,338.0 L493.4,338.7 L494.7,339.5 L496.0,340.2 L497.2,340.9 L498.5,341.6 L499.8,342.3 L501.1,343.0 L502.3,343.7 L503.6,344.4 L504.9,345.1 L506.2,345.8 L507.5,346.5 L508.7,347.2 L510.0,347.9 L511.3,348.6 L512.6,349.3 L513.9,349.9 L515.2,350.6 L516.5,351.3 L517.8,352.0 L519.1,352.6 L520.4,353.3 L521.7,353.9 L523.0,354.6 L524.3,355.3 L525.6,355.9 L526.9,356.6 L528.2,357.2 L529.6,357.9 L530.9,358.5 L532.2,359.1 L533.5,359.8 L534.8,360.4 L536.2,361.0 L537.5,361.7 L538.8,362.3 L540.1,362.9 L541.5,363.5 L542.8,364.2 L544.1,364.8 L545.5,365.4 L546.8,366.0 L548.1,366.6 L549.5,367.2 L550.8,367.8 L552.2,368.4 L553.5,369.0 L554.9,369.6 L556.2,370.1 L557.6,370.7 L558.9,371.3 L560.3,371.8 L561.6,372.4 L563.0,372.9 L564.4,373.5 L565.7,374.0 L567.1,374.5 L568.4,375.0 L569.8,375.6 L571.2,376.1 L572.6,376.5 L573.9,377.0 L575.3,377.5 L576.7,378.0 L578.1,378.4 L579.5,378.9 L580.9,379.3 L582.3,379.8 L583.7,380.2 L585.1,380.6 L586.5,381.0 L587.9,381.4 L589.3,381.8 L590.7,382.1 L592.1,382.5 L593.5,382.8 L594.9,383.2 L596.3,383.5 L597.7,383.8 L599.2,384.1 L600.6,384.4 L602.0,384.6 L603.5,384.9 L604.9,385.1 L606.3,385.3 L607.8,385.6 L609.2,385.8 L610.6,386.0 L612.1,386.2 L613.5,386.3 L615.0,386.5 L616.4,386.6 L617.9,386.8 L619.3,386.9 L620.8,387.0 L622.3,387.1 L623.7,387.2 L625.2,387.3 L626.6,387.4 L628.1,387.5 L629.5,387.5 L631.0,387.6 L632.5,387.6 L633.9,387.6 L635.4,387.7 L636.9,387.7 L638.3,387.7 L639.8,387.7 L641.2,387.6 L642.7,387.6 L644.2,387.6 L645.6,387.5 L647.1,387.5 L648.5,387.4 L650.0,387.5 L740.0,387.7 L868.1,389.2 L885.6,416.2 L740.0,414.5 L658.0,414.1 L650.0,414.1 L648.6,414.0 L647.2,414.0 L645.8,414.0 L644.4,414.0 L643.0,414.1 L641.6,414.1 L640.2,414.1 L638.8,414.1 L637.4,414.0 L636.0,414.0 L634.6,414.0 L633.1,414.0 L631.7,414.0 L630.3,413.9 L628.9,413.9 L627.5,413.8 L626.1,413.8 L624.7,413.7 L623.3,413.6 L621.9,413.5 L620.5,413.4 L619.1,413.3 L617.7,413.2 L616.3,413.1 L614.9,412.9 L613.5,412.8 L612.1,412.6 L610.7,412.4 L609.3,412.2 L608.0,412.0 L606.6,411.8 L605.2,411.5 L603.8,411.3 L602.5,411.0 L601.1,410.7 L599.7,410.4 L598.4,410.1 L597.0,409.8 L595.7,409.5 L594.3,409.1 L593.0,408.7 L591.6,408.4 L590.3,408.0 L588.9,407.6 L587.6,407.2 L586.3,406.7 L584.9,406.3 L583.6,405.9 L582.3,405.4 L580.9,405.0 L579.6,404.5 L578.3,404.0 L577.0,403.5 L575.7,403.0 L574.3,402.5 L573.0,402.0 L571.7,401.5 L570.4,401.0 L569.1,400.5 L567.8,400.0 L566.5,399.5 L565.2,398.9 L563.9,398.4 L562.6,397.9 L561.3,397.3 L559.9,396.8 L558.6,396.2 L557.3,395.7 L556.0,395.2 L554.7,394.6 L553.4,394.1 L552.1,393.5 L550.8,393.0 L549.5,392.4 L548.2,391.9 L546.9,391.3 L545.6,390.8 L544.4,390.2 L543.1,389.7 L541.8,389.1 L540.5,388.6 L539.2,388.0 L537.9,387.4 L536.6,386.9 L535.3,386.3 L534.0,385.7 L532.7,385.2 L531.5,384.6 L530.2,384.0 L528.9,383.4 L527.6,382.9 L526.3,382.3 L525.1,381.7 L523.8,381.1 L522.5,380.5 L521.2,379.9 L520.0,379.3 L518.7,378.7 L517.4,378.1 L516.2,377.5 L514.9,376.9 L513.7,376.3 L512.4,375.7 L511.1,375.1 L509.9,374.4 L508.6,373.8 L507.4,373.2 L506.1,372.5 L504.9,371.9 L503.6,371.3 L502.4,370.6 L501.2,370.0 L499.9,369.3 L498.7,368.7 L497.4,368.0 L496.2,367.3 L495.0,366.7 L493.8,366.0 L492.5,365.3 L491.3,364.6 L490.1,363.9 L488.9,363.3 L487.7,362.6 L486.5,361.9 L485.3,361.2 L484.1,360.4 L482.9,359.7 L481.7,359.0 L480.5,358.3 L479.3,357.6 L478.1,356.8 L476.9,356.1 L475.7,355.3 L474.5,354.6 L473.4,353.8 L472.2,353.1 L471.0,352.3 L469.8,351.5 L468.7,350.7 L467.5,350.0 L466.4,349.2 L465.2,348.4 L464.1,347.6 L462.9,346.8 L461.8,346.0 L460.6,345.1 L459.5,344.3 L458.3,343.5 L457.2,342.7 L456.1,341.8 L455.0,341.0 L453.8,340.1 L452.7,339.3 L451.6,338.4 L450.5,337.6 L449.4,336.7 L448.2,335.9 L447.1,335.0 L446.0,334.1 L444.9,333.3 L443.8,332.4 L442.7,331.5 L441.6,330.7 L440.5,329.8 L439.4,328.9 L438.3,328.0 L437.2,327.1 L436.1,326.2 L435.0,325.4 L433.9,324.5 L432.8,323.6 L431.7,322.7 L430.6,321.8 L429.5,320.9 L428.4,320.0 L427.4,319.1 L426.3,318.2 L425.2,317.4 L424.1,316.5 L423.0,315.6 L421.9,314.7 L420.8,313.8 L419.7,312.9 L418.6,312.0 L417.5,311.1 L416.4,310.3 L415.4,309.4 L414.3,308.5 L413.2,307.6 L412.1,306.7 L411.0,305.8 L409.9,304.9 L408.9,304.0 L407.8,303.1 L406.7,302.2 L405.6,301.3 L404.6,300.4 L403.5,299.5 L402.5,298.6 L401.4,297.7 L400.3,296.8 L399.3,295.8 L398.2,294.9 L397.2,294.0 L396.1,293.1 L395.1,292.1 L394.1,291.2 L393.0,290.3 L392.0,289.3 L390.9,288.4 L389.9,287.4 L388.9,286.5 L387.9,285.5 L386.8,284.6 L385.8,283.6 L384.8,282.6 L383.8,281.7 L382.8,280.7 L381.8,279.7 L380.8,278.8 L379.8,277.8 L378.8,276.8 L377.8,275.8 L376.8,274.8 L375.8,273.8 L374.8,272.8 L373.9,271.8 L372.9,270.8 L371.9,269.8 L370.9,268.8 L370.0,267.8 L369.0,266.8 L368.0,265.8 L367.1,264.7 L366.1,263.7 L365.1,262.7 L364.2,261.7 L363.2,260.6 L362.3,259.6 L361.3,258.6 L360.4,257.5 L359.4,256.5 L358.5,255.4 L357.6,254.4 L356.6,253.3 L355.7,252.3 L354.7,251.2 L353.8,250.2 L352.9,249.1 L352.0,248.1 L351.0,247.0 L350.1,246.0 L349.2,244.9 L348.3,243.8 L347.3,242.8 L346.4,241.7 L345.5,240.6 L344.6,239.6 L343.7,238.5 L342.8,237.4 L341.9,236.3 L341.0,235.3 L340.1,234.2 L339.2,233.1 L338.3,232.0 L337.4,230.9 L336.5,229.9 L335.6,228.8 L334.7,227.7 L333.8,226.6 L332.9,225.5 L332.0,224.4 L331.1,223.3 L330.2,222.3 L329.3,221.2 L328.4,220.1 L327.5,219.0 L326.7,217.9 L325.8,216.8 L324.9,215.7 L324.0,214.6 L323.1,213.5 L322.2,212.4 L321.4,211.4 L320.5,210.3 L319.6,209.2 L318.7,208.1 L317.8,207.0 L317.0,205.9 L316.1,204.8 L315.2,203.7 L314.3,202.6 L313.5,201.5 L312.6,200.4 L311.7,199.4 L310.8,198.3 L310.0,197.2 L309.1,196.1 L308.4,194.8 L287.8,165.3 Z" fill="url(#hot)"/><path d="M287.8,165.3 L288.9,166.2 L289.9,167.2 L290.9,168.3 L292.0,169.4 L293.0,170.4 L294.0,171.5 L295.0,172.6 L296.0,173.6 L297.0,174.7 L298.0,175.7 L299.1,176.8 L300.1,177.8 L301.1,178.9 L302.1,179.9 L303.1,181.0 L304.2,182.0 L305.2,183.1 L306.2,184.1 L307.2,185.2 L308.3,186.2 L309.3,187.2 L310.3,188.3 L311.3,189.3 L312.4,190.3 L313.4,191.4 L314.4,192.4 L315.5,193.4 L316.5,194.4 L317.6,195.5 L318.6,196.5 L319.6,197.5 L320.7,198.5 L321.7,199.6 L322.8,200.6 L323.8,201.6 L324.8,202.6 L325.9,203.6 L326.9,204.6 L328.0,205.7 L329.0,206.7 L330.1,207.7 L331.1,208.7 L332.2,209.7 L333.2,210.7 L334.3,211.7 L335.3,212.7 L336.4,213.7 L337.4,214.7 L338.5,215.7 L339.5,216.7 L340.6,217.7 L341.7,218.7 L342.7,219.7 L343.8,220.7 L344.8,221.7 L345.9,222.7 L347.0,223.7 L348.0,224.7 L349.1,225.7 L350.2,226.7 L351.2,227.7 L352.3,228.7 L353.4,229.7 L354.4,230.7 L355.5,231.7 L356.6,232.7 L357.6,233.6 L358.7,234.6 L359.8,235.6 L360.8,236.6 L361.9,237.6 L363.0,238.6 L364.1,239.6 L365.1,240.6 L366.2,241.5 L367.3,242.5 L368.4,243.5 L369.5,244.5 L370.5,245.5 L371.6,246.5 L372.7,247.5 L373.8,248.4 L374.9,249.4 L375.9,250.4 L377.0,251.4 L378.1,252.4 L379.2,253.3 L380.3,254.3 L381.4,255.3 L382.5,256.3 L383.6,257.2 L384.7,258.2 L385.7,259.2 L386.8,260.2 L387.9,261.1 L389.0,262.1 L390.1,263.1 L391.2,264.0 L392.3,265.0 L393.4,266.0 L394.5,266.9 L395.6,267.9 L396.7,268.8 L397.9,269.8 L399.0,270.7 L400.1,271.7 L401.2,272.7 L402.3,273.6 L403.4,274.6 L404.5,275.5 L405.6,276.4 L406.8,277.4 L407.9,278.3 L409.0,279.3 L410.1,280.2 L411.2,281.1 L412.4,282.1 L413.5,283.0 L414.6,283.9 L415.8,284.9 L416.9,285.8 L418.0,286.7 L419.2,287.6 L420.3,288.5 L421.4,289.5 L422.6,290.4 L423.7,291.3 L424.9,292.2 L426.0,293.1 L427.1,294.0 L428.3,294.9 L429.4,295.8 L430.6,296.7 L431.8,297.6 L432.9,298.5 L434.1,299.3 L435.2,300.2 L436.4,301.1 L437.6,302.0 L438.7,302.9 L439.9,303.7 L441.1,304.6 L442.2,305.5 L443.4,306.3 L444.6,307.2 L445.8,308.0 L446.9,308.9 L448.1,309.7 L449.3,310.6 L450.5,311.4 L451.7,312.3 L452.9,313.1 L454.1,313.9 L455.3,314.8 L456.5,315.6 L457.7,316.4 L458.9,317.2 L460.1,318.0 L461.3,318.8 L462.5,319.7 L463.7,320.5 L464.9,321.3 L466.1,322.1 L467.4,322.8 L468.6,323.6 L469.8,324.4 L471.0,325.2 L472.3,326.0 L473.5,326.8 L474.7,327.5 L476.0,328.3 L477.2,329.1 L478.4,329.8 L479.7,330.6 L480.9,331.4 L482.2,332.1 L483.4,332.9 L484.7,333.6 L485.9,334.3 L487.2,335.1 L488.4,335.8 L489.7,336.6 L490.9,337.3 L492.2,338.0 L493.4,338.7 L494.7,339.5 L496.0,340.2 L497.2,340.9 L498.5,341.6 L499.8,342.3 L501.1,343.0 L502.3,343.7 L503.6,344.4 L504.9,345.1 L506.2,345.8 L507.5,346.5 L508.7,347.2 L510.0,347.9 L511.3,348.6 L512.6,349.3 L513.9,349.9 L515.2,350.6 L516.5,351.3 L517.8,352.0 L519.1,352.6 L520.4,353.3 L521.7,353.9 L523.0,354.6 L524.3,355.3 L525.6,355.9 L526.9,356.6 L528.2,357.2 L529.6,357.9 L530.9,358.5 L532.2,359.1 L533.5,359.8 L534.8,360.4 L536.2,361.0 L537.5,361.7 L538.8,362.3 L540.1,362.9 L541.5,363.5 L542.8,364.2 L544.1,364.8 L545.5,365.4 L546.8,366.0 L548.1,366.6 L549.5,367.2 L550.8,367.8 L552.2,368.4 L553.5,369.0 L554.9,369.6 L556.2,370.1 L557.6,370.7 L558.9,371.3 L560.3,371.8 L561.6,372.4 L563.0,372.9 L564.4,373.5 L565.7,374.0 L567.1,374.5 L568.4,375.0 L569.8,375.6 L571.2,376.1 L572.6,376.5 L573.9,377.0 L575.3,377.5 L576.7,378.0 L578.1,378.4 L579.5,378.9 L580.9,379.3 L582.3,379.8 L583.7,380.2 L585.1,380.6 L586.5,381.0 L587.9,381.4 L589.3,381.8 L590.7,382.1 L592.1,382.5 L593.5,382.8 L594.9,383.2 L596.3,383.5 L597.7,383.8 L599.2,384.1 L600.6,384.4 L602.0,384.6 L603.5,384.9 L604.9,385.1 L606.3,385.3 L607.8,385.6 L609.2,385.8 L610.6,386.0 L612.1,386.2 L613.5,386.3 L615.0,386.5 L616.4,386.6 L617.9,386.8 L619.3,386.9 L620.8,387.0 L622.3,387.1 L623.7,387.2 L625.2,387.3 L626.6,387.4 L628.1,387.5 L629.5,387.5 L631.0,387.6 L632.5,387.6 L633.9,387.6 L635.4,387.7 L636.9,387.7 L638.3,387.7 L639.8,387.7 L641.2,387.6 L642.7,387.6 L644.2,387.6 L645.6,387.5 L647.1,387.5 L648.5,387.4 L650.0,387.5 L740.0,387.7 L868.1,389.2 L885.6,416.2 L740.0,414.5 L658.0,414.1 L650.0,414.1 L648.6,414.0 L647.2,414.0 L645.8,414.0 L644.4,414.0 L643.0,414.1 L641.6,414.1 L640.2,414.1 L638.8,414.1 L637.4,414.0 L636.0,414.0 L634.6,414.0 L633.1,414.0 L631.7,414.0 L630.3,413.9 L628.9,413.9 L627.5,413.8 L626.1,413.8 L624.7,413.7 L623.3,413.6 L621.9,413.5 L620.5,413.4 L619.1,413.3 L617.7,413.2 L616.3,413.1 L614.9,412.9 L613.5,412.8 L612.1,412.6 L610.7,412.4 L609.3,412.2 L608.0,412.0 L606.6,411.8 L605.2,411.5 L603.8,411.3 L602.5,411.0 L601.1,410.7 L599.7,410.4 L598.4,410.1 L597.0,409.8 L595.7,409.5 L594.3,409.1 L593.0,408.7 L591.6,408.4 L590.3,408.0 L588.9,407.6 L587.6,407.2 L586.3,406.7 L584.9,406.3 L583.6,405.9 L582.3,405.4 L580.9,405.0 L579.6,404.5 L578.3,404.0 L577.0,403.5 L575.7,403.0 L574.3,402.5 L573.0,402.0 L571.7,401.5 L570.4,401.0 L569.1,400.5 L567.8,400.0 L566.5,399.5 L565.2,398.9 L563.9,398.4 L562.6,397.9 L561.3,397.3 L559.9,396.8 L558.6,396.2 L557.3,395.7 L556.0,395.2 L554.7,394.6 L553.4,394.1 L552.1,393.5 L550.8,393.0 L549.5,392.4 L548.2,391.9 L546.9,391.3 L545.6,390.8 L544.4,390.2 L543.1,389.7 L541.8,389.1 L540.5,388.6 L539.2,388.0 L537.9,387.4 L536.6,386.9 L535.3,386.3 L534.0,385.7 L532.7,385.2 L531.5,384.6 L530.2,384.0 L528.9,383.4 L527.6,382.9 L526.3,382.3 L525.1,381.7 L523.8,381.1 L522.5,380.5 L521.2,379.9 L520.0,379.3 L518.7,378.7 L517.4,378.1 L516.2,377.5 L514.9,376.9 L513.7,376.3 L512.4,375.7 L511.1,375.1 L509.9,374.4 L508.6,373.8 L507.4,373.2 L506.1,372.5 L504.9,371.9 L503.6,371.3 L502.4,370.6 L501.2,370.0 L499.9,369.3 L498.7,368.7 L497.4,368.0 L496.2,367.3 L495.0,366.7 L493.8,366.0 L492.5,365.3 L491.3,364.6 L490.1,363.9 L488.9,363.3 L487.7,362.6 L486.5,361.9 L485.3,361.2 L484.1,360.4 L482.9,359.7 L481.7,359.0 L480.5,358.3 L479.3,357.6 L478.1,356.8 L476.9,356.1 L475.7,355.3 L474.5,354.6 L473.4,353.8 L472.2,353.1 L471.0,352.3 L469.8,351.5 L468.7,350.7 L467.5,350.0 L466.4,349.2 L465.2,348.4 L464.1,347.6 L462.9,346.8 L461.8,346.0 L460.6,345.1 L459.5,344.3 L458.3,343.5 L457.2,342.7 L456.1,341.8 L455.0,341.0 L453.8,340.1 L452.7,339.3 L451.6,338.4 L450.5,337.6 L449.4,336.7 L448.2,335.9 L447.1,335.0 L446.0,334.1 L444.9,333.3 L443.8,332.4 L442.7,331.5 L441.6,330.7 L440.5,329.8 L439.4,328.9 L438.3,328.0 L437.2,327.1 L436.1,326.2 L435.0,325.4 L433.9,324.5 L432.8,323.6 L431.7,322.7 L430.6,321.8 L429.5,320.9 L428.4,320.0 L427.4,319.1 L426.3,318.2 L425.2,317.4 L424.1,316.5 L423.0,315.6 L421.9,314.7 L420.8,313.8 L419.7,312.9 L418.6,312.0 L417.5,311.1 L416.4,310.3 L415.4,309.4 L414.3,308.5 L413.2,307.6 L412.1,306.7 L411.0,305.8 L409.9,304.9 L408.9,304.0 L407.8,303.1 L406.7,302.2 L405.6,301.3 L404.6,300.4 L403.5,299.5 L402.5,298.6 L401.4,297.7 L400.3,296.8 L399.3,295.8 L398.2,294.9 L397.2,294.0 L396.1,293.1 L395.1,292.1 L394.1,291.2 L393.0,290.3 L392.0,289.3 L390.9,288.4 L389.9,287.4 L388.9,286.5 L387.9,285.5 L386.8,284.6 L385.8,283.6 L384.8,282.6 L383.8,281.7 L382.8,280.7 L381.8,279.7 L380.8,278.8 L379.8,277.8 L378.8,276.8 L377.8,275.8 L376.8,274.8 L375.8,273.8 L374.8,272.8 L373.9,271.8 L372.9,270.8 L371.9,269.8 L370.9,268.8 L370.0,267.8 L369.0,266.8 L368.0,265.8 L367.1,264.7 L366.1,263.7 L365.1,262.7 L364.2,261.7 L363.2,260.6 L362.3,259.6 L361.3,258.6 L360.4,257.5 L359.4,256.5 L358.5,255.4 L357.6,254.4 L356.6,253.3 L355.7,252.3 L354.7,251.2 L353.8,250.2 L352.9,249.1 L352.0,248.1 L351.0,247.0 L350.1,246.0 L349.2,244.9 L348.3,243.8 L347.3,242.8 L346.4,241.7 L345.5,240.6 L344.6,239.6 L343.7,238.5 L342.8,237.4 L341.9,236.3 L341.0,235.3 L340.1,234.2 L339.2,233.1 L338.3,232.0 L337.4,230.9 L336.5,229.9 L335.6,228.8 L334.7,227.7 L333.8,226.6 L332.9,225.5 L332.0,224.4 L331.1,223.3 L330.2,222.3 L329.3,221.2 L328.4,220.1 L327.5,219.0 L326.7,217.9 L325.8,216.8 L324.9,215.7 L324.0,214.6 L323.1,213.5 L322.2,212.4 L321.4,211.4 L320.5,210.3 L319.6,209.2 L318.7,208.1 L317.8,207.0 L317.0,205.9 L316.1,204.8 L315.2,203.7 L314.3,202.6 L313.5,201.5 L312.6,200.4 L311.7,199.4 L310.8,198.3 L310.0,197.2 L309.1,196.1 L308.4,194.8 L287.8,165.3 Z" fill="url(#hotR)"/><path d="M287.8,165.3 L288.9,166.2 L289.9,167.2 L290.9,168.3 L292.0,169.4 L293.0,170.4 L294.0,171.5 L295.0,172.6 L296.0,173.6 L297.0,174.7 L298.0,175.7 L299.1,176.8 L300.1,177.8 L301.1,178.9 L302.1,179.9 L303.1,181.0 L304.2,182.0 L305.2,183.1 L306.2,184.1 L307.2,185.2 L308.3,186.2 L309.3,187.2 L310.3,188.3 L311.3,189.3 L312.4,190.3 L313.4,191.4 L314.4,192.4 L315.5,193.4 L316.5,194.4 L317.6,195.5 L318.6,196.5 L319.6,197.5 L320.7,198.5 L321.7,199.6 L322.8,200.6 L323.8,201.6 L324.8,202.6 L325.9,203.6 L326.9,204.6 L328.0,205.7 L329.0,206.7 L330.1,207.7 L331.1,208.7 L332.2,209.7 L333.2,210.7 L334.3,211.7 L335.3,212.7 L336.4,213.7 L337.4,214.7 L338.5,215.7 L339.5,216.7 L340.6,217.7 L341.7,218.7 L342.7,219.7 L343.8,220.7 L344.8,221.7 L345.9,222.7 L347.0,223.7 L348.0,224.7 L349.1,225.7 L350.2,226.7 L351.2,227.7 L352.3,228.7 L353.4,229.7 L354.4,230.7 L355.5,231.7 L356.6,232.7 L357.6,233.6 L358.7,234.6 L359.8,235.6 L360.8,236.6 L361.9,237.6 L363.0,238.6 L364.1,239.6 L365.1,240.6 L366.2,241.5 L367.3,242.5 L368.4,243.5 L369.5,244.5 L370.5,245.5 L371.6,246.5 L372.7,247.5 L373.8,248.4 L374.9,249.4 L375.9,250.4 L377.0,251.4 L378.1,252.4 L379.2,253.3 L380.3,254.3 L381.4,255.3 L382.5,256.3 L383.6,257.2 L384.7,258.2 L385.7,259.2 L386.8,260.2 L387.9,261.1 L389.0,262.1 L390.1,263.1 L391.2,264.0 L392.3,265.0 L393.4,266.0 L394.5,266.9 L395.6,267.9 L396.7,268.8 L397.9,269.8 L399.0,270.7 L400.1,271.7 L401.2,272.7 L402.3,273.6 L403.4,274.6 L404.5,275.5 L405.6,276.4 L406.8,277.4 L407.9,278.3 L409.0,279.3 L410.1,280.2 L411.2,281.1 L412.4,282.1 L413.5,283.0 L414.6,283.9 L415.8,284.9 L416.9,285.8 L418.0,286.7 L419.2,287.6 L420.3,288.5 L421.4,289.5 L422.6,290.4 L423.7,291.3 L424.9,292.2 L426.0,293.1 L427.1,294.0 L428.3,294.9 L429.4,295.8 L430.6,296.7 L431.8,297.6 L432.9,298.5 L434.1,299.3 L435.2,300.2 L436.4,301.1 L437.6,302.0 L438.7,302.9 L439.9,303.7 L441.1,304.6 L442.2,305.5 L443.4,306.3 L444.6,307.2 L445.8,308.0 L446.9,308.9 L448.1,309.7 L449.3,310.6 L450.5,311.4 L451.7,312.3 L452.9,313.1 L454.1,313.9 L455.3,314.8 L456.5,315.6 L457.7,316.4 L458.9,317.2 L460.1,318.0 L461.3,318.8 L462.5,319.7 L463.7,320.5 L464.9,321.3 L466.1,322.1 L467.4,322.8 L468.6,323.6 L469.8,324.4 L471.0,325.2 L472.3,326.0 L473.5,326.8 L474.7,327.5 L476.0,328.3 L477.2,329.1 L478.4,329.8 L479.7,330.6 L480.9,331.4 L482.2,332.1 L483.4,332.9 L484.7,333.6 L485.9,334.3 L487.2,335.1 L488.4,335.8 L489.7,336.6 L490.9,337.3 L492.2,338.0 L493.4,338.7 L494.7,339.5 L496.0,340.2 L497.2,340.9 L498.5,341.6 L499.8,342.3 L501.1,343.0 L502.3,343.7 L503.6,344.4 L504.9,345.1 L506.2,345.8 L507.5,346.5 L508.7,347.2 L510.0,347.9 L511.3,348.6 L512.6,349.3 L513.9,349.9 L515.2,350.6 L516.5,351.3 L517.8,352.0 L519.1,352.6 L520.4,353.3 L521.7,353.9 L523.0,354.6 L524.3,355.3 L525.6,355.9 L526.9,356.6 L528.2,357.2 L529.6,357.9 L530.9,358.5 L532.2,359.1 L533.5,359.8 L534.8,360.4 L536.2,361.0 L537.5,361.7 L538.8,362.3 L540.1,362.9 L541.5,363.5 L542.8,364.2 L544.1,364.8 L545.5,365.4 L546.8,366.0 L548.1,366.6 L549.5,367.2 L550.8,367.8 L552.2,368.4 L553.5,369.0 L554.9,369.6 L556.2,370.1 L557.6,370.7 L558.9,371.3 L560.3,371.8 L561.6,372.4 L563.0,372.9 L564.4,373.5 L565.7,374.0 L567.1,374.5 L568.4,375.0 L569.8,375.6 L571.2,376.1 L572.6,376.5 L573.9,377.0 L575.3,377.5 L576.7,378.0 L578.1,378.4 L579.5,378.9 L580.9,379.3 L582.3,379.8 L583.7,380.2 L585.1,380.6 L586.5,381.0 L587.9,381.4 L589.3,381.8 L590.7,382.1 L592.1,382.5 L593.5,382.8 L594.9,383.2 L596.3,383.5 L597.7,383.8 L599.2,384.1 L600.6,384.4 L602.0,384.6 L603.5,384.9 L604.9,385.1 L606.3,385.3 L607.8,385.6 L609.2,385.8 L610.6,386.0 L612.1,386.2 L613.5,386.3 L615.0,386.5 L616.4,386.6 L617.9,386.8 L619.3,386.9 L620.8,387.0 L622.3,387.1 L623.7,387.2 L625.2,387.3 L626.6,387.4 L628.1,387.5 L629.5,387.5 L631.0,387.6 L632.5,387.6 L633.9,387.6 L635.4,387.7 L636.9,387.7 L638.3,387.7 L639.8,387.7 L641.2,387.6 L642.7,387.6 L644.2,387.6 L645.6,387.5 L647.1,387.5 L648.5,387.4 L650.0,387.5 L740.0,387.7 L868.1,389.2 L885.6,416.2 L740.0,414.5 L658.0,414.1 L650.0,414.1 L648.6,414.0 L647.2,414.0 L645.8,414.0 L644.4,414.0 L643.0,414.1 L641.6,414.1 L640.2,414.1 L638.8,414.1 L637.4,414.0 L636.0,414.0 L634.6,414.0 L633.1,414.0 L631.7,414.0 L630.3,413.9 L628.9,413.9 L627.5,413.8 L626.1,413.8 L624.7,413.7 L623.3,413.6 L621.9,413.5 L620.5,413.4 L619.1,413.3 L617.7,413.2 L616.3,413.1 L614.9,412.9 L613.5,412.8 L612.1,412.6 L610.7,412.4 L609.3,412.2 L608.0,412.0 L606.6,411.8 L605.2,411.5 L603.8,411.3 L602.5,411.0 L601.1,410.7 L599.7,410.4 L598.4,410.1 L597.0,409.8 L595.7,409.5 L594.3,409.1 L593.0,408.7 L591.6,408.4 L590.3,408.0 L588.9,407.6 L587.6,407.2 L586.3,406.7 L584.9,406.3 L583.6,405.9 L582.3,405.4 L580.9,405.0 L579.6,404.5 L578.3,404.0 L577.0,403.5 L575.7,403.0 L574.3,402.5 L573.0,402.0 L571.7,401.5 L570.4,401.0 L569.1,400.5 L567.8,400.0 L566.5,399.5 L565.2,398.9 L563.9,398.4 L562.6,397.9 L561.3,397.3 L559.9,396.8 L558.6,396.2 L557.3,395.7 L556.0,395.2 L554.7,394.6 L553.4,394.1 L552.1,393.5 L550.8,393.0 L549.5,392.4 L548.2,391.9 L546.9,391.3 L545.6,390.8 L544.4,390.2 L543.1,389.7 L541.8,389.1 L540.5,388.6 L539.2,388.0 L537.9,387.4 L536.6,386.9 L535.3,386.3 L534.0,385.7 L532.7,385.2 L531.5,384.6 L530.2,384.0 L528.9,383.4 L527.6,382.9 L526.3,382.3 L525.1,381.7 L523.8,381.1 L522.5,380.5 L521.2,379.9 L520.0,379.3 L518.7,378.7 L517.4,378.1 L516.2,377.5 L514.9,376.9 L513.7,376.3 L512.4,375.7 L511.1,375.1 L509.9,374.4 L508.6,373.8 L507.4,373.2 L506.1,372.5 L504.9,371.9 L503.6,371.3 L502.4,370.6 L501.2,370.0 L499.9,369.3 L498.7,368.7 L497.4,368.0 L496.2,367.3 L495.0,366.7 L493.8,366.0 L492.5,365.3 L491.3,364.6 L490.1,363.9 L488.9,363.3 L487.7,362.6 L486.5,361.9 L485.3,361.2 L484.1,360.4 L482.9,359.7 L481.7,359.0 L480.5,358.3 L479.3,357.6 L478.1,356.8 L476.9,356.1 L475.7,355.3 L474.5,354.6 L473.4,353.8 L472.2,353.1 L471.0,352.3 L469.8,351.5 L468.7,350.7 L467.5,350.0 L466.4,349.2 L465.2,348.4 L464.1,347.6 L462.9,346.8 L461.8,346.0 L460.6,345.1 L459.5,344.3 L458.3,343.5 L457.2,342.7 L456.1,341.8 L455.0,341.0 L453.8,340.1 L452.7,339.3 L451.6,338.4 L450.5,337.6 L449.4,336.7 L448.2,335.9 L447.1,335.0 L446.0,334.1 L444.9,333.3 L443.8,332.4 L442.7,331.5 L441.6,330.7 L440.5,329.8 L439.4,328.9 L438.3,328.0 L437.2,327.1 L436.1,326.2 L435.0,325.4 L433.9,324.5 L432.8,323.6 L431.7,322.7 L430.6,321.8 L429.5,320.9 L428.4,320.0 L427.4,319.1 L426.3,318.2 L425.2,317.4 L424.1,316.5 L423.0,315.6 L421.9,314.7 L420.8,313.8 L419.7,312.9 L418.6,312.0 L417.5,311.1 L416.4,310.3 L415.4,309.4 L414.3,308.5 L413.2,307.6 L412.1,306.7 L411.0,305.8 L409.9,304.9 L408.9,304.0 L407.8,303.1 L406.7,302.2 L405.6,301.3 L404.6,300.4 L403.5,299.5 L402.5,298.6 L401.4,297.7 L400.3,296.8 L399.3,295.8 L398.2,294.9 L397.2,294.0 L396.1,293.1 L395.1,292.1 L394.1,291.2 L393.0,290.3 L392.0,289.3 L390.9,288.4 L389.9,287.4 L388.9,286.5 L387.9,285.5 L386.8,284.6 L385.8,283.6 L384.8,282.6 L383.8,281.7 L382.8,280.7 L381.8,279.7 L380.8,278.8 L379.8,277.8 L378.8,276.8 L377.8,275.8 L376.8,274.8 L375.8,273.8 L374.8,272.8 L373.9,271.8 L372.9,270.8 L371.9,269.8 L370.9,268.8 L370.0,267.8 L369.0,266.8 L368.0,265.8 L367.1,264.7 L366.1,263.7 L365.1,262.7 L364.2,261.7 L363.2,260.6 L362.3,259.6 L361.3,258.6 L360.4,257.5 L359.4,256.5 L358.5,255.4 L357.6,254.4 L356.6,253.3 L355.7,252.3 L354.7,251.2 L353.8,250.2 L352.9,249.1 L352.0,248.1 L351.0,247.0 L350.1,246.0 L349.2,244.9 L348.3,243.8 L347.3,242.8 L346.4,241.7 L345.5,240.6 L344.6,239.6 L343.7,238.5 L342.8,237.4 L341.9,236.3 L341.0,235.3 L340.1,234.2 L339.2,233.1 L338.3,232.0 L337.4,230.9 L336.5,229.9 L335.6,228.8 L334.7,227.7 L333.8,226.6 L332.9,225.5 L332.0,224.4 L331.1,223.3 L330.2,222.3 L329.3,221.2 L328.4,220.1 L327.5,219.0 L326.7,217.9 L325.8,216.8 L324.9,215.7 L324.0,214.6 L323.1,213.5 L322.2,212.4 L321.4,211.4 L320.5,210.3 L319.6,209.2 L318.7,208.1 L317.8,207.0 L317.0,205.9 L316.1,204.8 L315.2,203.7 L314.3,202.6 L313.5,201.5 L312.6,200.4 L311.7,199.4 L310.8,198.3 L310.0,197.2 L309.1,196.1 L308.4,194.8 L287.8,165.3 Z" fill="url(#hotL)"/></g>
<g clip-path="url(#cpL)"><path d="M287.8,165.3 L288.9,166.2 L289.9,167.2 L290.9,168.3 L292.0,169.4 L293.0,170.4 L294.0,171.5 L295.0,172.6 L296.0,173.6 L297.0,174.7 L298.0,175.7 L299.1,176.8 L300.1,177.8 L301.1,178.9 L302.1,179.9 L303.1,181.0 L304.2,182.0 L305.2,183.1 L306.2,184.1 L307.2,185.2 L308.3,186.2 L309.3,187.2 L310.3,188.3 L311.3,189.3 L312.4,190.3 L313.4,191.4 L314.4,192.4 L315.5,193.4 L316.5,194.4 L317.6,195.5 L318.6,196.5 L319.6,197.5 L320.7,198.5 L321.7,199.6 L322.8,200.6 L323.8,201.6 L324.8,202.6 L325.9,203.6 L326.9,204.6 L328.0,205.7 L329.0,206.7 L330.1,207.7 L331.1,208.7 L332.2,209.7 L333.2,210.7 L334.3,211.7 L335.3,212.7 L336.4,213.7 L337.4,214.7 L338.5,215.7 L339.5,216.7 L340.6,217.7 L341.7,218.7 L342.7,219.7 L343.8,220.7 L344.8,221.7 L345.9,222.7 L347.0,223.7 L348.0,224.7 L349.1,225.7 L350.2,226.7 L351.2,227.7 L352.3,228.7 L353.4,229.7 L354.4,230.7 L355.5,231.7 L356.6,232.7 L357.6,233.6 L358.7,234.6 L359.8,235.6 L360.8,236.6 L361.9,237.6 L363.0,238.6 L364.1,239.6 L365.1,240.6 L366.2,241.5 L367.3,242.5 L368.4,243.5 L369.5,244.5 L370.5,245.5 L371.6,246.5 L372.7,247.5 L373.8,248.4 L374.9,249.4 L375.9,250.4 L377.0,251.4 L378.1,252.4 L379.2,253.3 L380.3,254.3 L381.4,255.3 L382.5,256.3 L383.6,257.2 L384.7,258.2 L385.7,259.2 L386.8,260.2 L387.9,261.1 L389.0,262.1 L390.1,263.1 L391.2,264.0 L392.3,265.0 L393.4,266.0 L394.5,266.9 L395.6,267.9 L396.7,268.8 L397.9,269.8 L399.0,270.7 L400.1,271.7 L401.2,272.7 L402.3,273.6 L403.4,274.6 L404.5,275.5 L405.6,276.4 L406.8,277.4 L407.9,278.3 L409.0,279.3 L410.1,280.2 L411.2,281.1 L412.4,282.1 L413.5,283.0 L414.6,283.9 L415.8,284.9 L416.9,285.8 L418.0,286.7 L419.2,287.6 L420.3,288.5 L421.4,289.5 L422.6,290.4 L423.7,291.3 L424.9,292.2 L426.0,293.1 L427.1,294.0 L428.3,294.9 L429.4,295.8 L430.6,296.7 L431.8,297.6 L432.9,298.5 L434.1,299.3 L435.2,300.2 L436.4,301.1 L437.6,302.0 L438.7,302.9 L439.9,303.7 L441.1,304.6 L442.2,305.5 L443.4,306.3 L444.6,307.2 L445.8,308.0 L446.9,308.9 L448.1,309.7 L449.3,310.6 L450.5,311.4 L451.7,312.3 L452.9,313.1 L454.1,313.9 L455.3,314.8 L456.5,315.6 L457.7,316.4 L458.9,317.2 L460.1,318.0 L461.3,318.8 L462.5,319.7 L463.7,320.5 L464.9,321.3 L466.1,322.1 L467.4,322.8 L468.6,323.6 L469.8,324.4 L471.0,325.2 L472.3,326.0 L473.5,326.8 L474.7,327.5 L476.0,328.3 L477.2,329.1 L478.4,329.8 L479.7,330.6 L480.9,331.4 L482.2,332.1 L483.4,332.9 L484.7,333.6 L485.9,334.3 L487.2,335.1 L488.4,335.8 L489.7,336.6 L490.9,337.3 L492.2,338.0 L493.4,338.7 L494.7,339.5 L496.0,340.2 L497.2,340.9 L498.5,341.6 L499.8,342.3 L501.1,343.0 L502.3,343.7 L503.6,344.4 L504.9,345.1 L506.2,345.8 L507.5,346.5 L508.7,347.2 L510.0,347.9 L511.3,348.6 L512.6,349.3 L513.9,349.9 L515.2,350.6 L516.5,351.3 L517.8,352.0 L519.1,352.6 L469.8,354.2 L468.6,353.4 L467.4,352.6 L466.3,351.8 L465.1,351.0 L463.9,350.2 L462.8,349.4 L461.6,348.6 L460.5,347.8 L459.3,347.0 L458.2,346.1 L457.0,345.3 L455.9,344.5 L454.7,343.6 L453.6,342.8 L452.5,341.9 L451.4,341.1 L450.2,340.2 L449.1,339.4 L448.0,338.5 L446.9,337.7 L445.7,336.8 L444.6,335.9 L443.5,335.0 L442.4,334.2 L441.3,333.3 L440.2,332.4 L439.1,331.5 L438.0,330.6 L436.9,329.8 L435.8,328.9 L434.7,328.0 L433.6,327.1 L432.5,326.2 L431.4,325.3 L430.3,324.4 L429.2,323.5 L428.1,322.7 L427.0,321.8 L425.9,320.9 L424.8,320.0 L423.7,319.1 L422.7,318.2 L421.6,317.3 L420.5,316.4 L419.4,315.6 L418.3,314.7 L417.2,313.8 L416.1,312.9 L415.0,312.0 L413.9,311.1 L412.8,310.2 L411.8,309.3 L410.7,308.4 L409.6,307.5 L408.5,306.6 L407.4,305.7 L406.3,304.8 L405.3,303.9 L404.2,303.0 L403.1,302.1 L402.1,301.2 L401.0,300.3 L399.9,299.4 L398.9,298.5 L397.8,297.5 L396.7,296.6 L395.7,295.7 L394.6,294.7 L393.6,293.8 L392.5,292.9 L391.5,291.9 L390.5,291.0 L389.4,290.0 L388.4,289.1 L387.4,288.1 L386.3,287.2 L385.3,286.2 L384.3,285.2 L383.3,284.3 L382.2,283.3 L381.2,282.3 L380.2,281.3 L379.2,280.4 L378.2,279.4 L377.2,278.4 L376.2,277.4 L375.2,276.4 L374.2,275.4 L373.2,274.4 L372.2,273.4 L371.3,272.4 L370.3,271.4 L369.3,270.4 L368.3,269.3 L367.4,268.3 L366.4,267.3 L365.4,266.3 L364.5,265.2 L363.5,264.2 L362.5,263.2 L361.6,262.2 L360.6,261.1 L359.7,260.1 L358.7,259.0 L357.8,258.0 L356.8,256.9 L355.9,255.9 L354.9,254.8 L354.0,253.8 L353.1,252.7 L352.1,251.7 L351.2,250.6 L350.3,249.6 L349.3,248.5 L348.4,247.4 L347.5,246.4 L346.6,245.3 L345.6,244.2 L344.7,243.2 L343.8,242.1 L342.9,241.0 L342.0,239.9 L341.1,238.9 L340.2,237.8 L339.2,236.7 L338.3,235.6 L337.4,234.5 L336.5,233.5 L335.6,232.4 L334.7,231.3 L333.8,230.2 L332.9,229.1 L332.0,228.0 L331.1,226.9 L330.2,225.9 L329.4,224.8 L328.5,223.7 L327.6,222.6 L326.7,221.5 L325.8,220.4 L324.9,219.3 L324.0,218.2 L323.1,217.1 L322.3,216.0 L321.4,214.9 L320.5,213.9 L319.6,212.8 L318.7,211.7 L317.8,210.6 L317.0,209.5 L316.1,208.4 L315.2,207.3 L314.3,206.2 L313.5,205.1 L312.6,204.0 L311.7,202.9 L310.8,201.8 L310.0,200.8 L309.1,199.7 L308.2,198.6 L307.2,197.3 L306.4,195.9 L287.8,165.3 Z" fill="url(#crimL)" opacity="0.25"/><path d="M287.8,165.3 L288.9,166.2 L289.9,167.2 L290.9,168.3 L292.0,169.4 L293.0,170.4 L294.0,171.5 L295.0,172.6 L296.0,173.6 L297.0,174.7 L298.0,175.7 L299.1,176.8 L300.1,177.8 L301.1,178.9 L302.1,179.9 L303.1,181.0 L304.2,182.0 L305.2,183.1 L306.2,184.1 L307.2,185.2 L308.3,186.2 L309.3,187.2 L310.3,188.3 L311.3,189.3 L312.4,190.3 L313.4,191.4 L314.4,192.4 L315.5,193.4 L316.5,194.4 L317.6,195.5 L318.6,196.5 L319.6,197.5 L320.7,198.5 L321.7,199.6 L322.8,200.6 L323.8,201.6 L324.8,202.6 L325.9,203.6 L326.9,204.6 L328.0,205.7 L329.0,206.7 L330.1,207.7 L331.1,208.7 L332.2,209.7 L333.2,210.7 L334.3,211.7 L335.3,212.7 L336.4,213.7 L337.4,214.7 L338.5,215.7 L339.5,216.7 L340.6,217.7 L341.7,218.7 L342.7,219.7 L343.8,220.7 L344.8,221.7 L345.9,222.7 L347.0,223.7 L348.0,224.7 L349.1,225.7 L350.2,226.7 L351.2,227.7 L352.3,228.7 L353.4,229.7 L354.4,230.7 L355.5,231.7 L356.6,232.7 L357.6,233.6 L358.7,234.6 L359.8,235.6 L360.8,236.6 L361.9,237.6 L363.0,238.6 L364.1,239.6 L365.1,240.6 L366.2,241.5 L367.3,242.5 L368.4,243.5 L369.5,244.5 L370.5,245.5 L371.6,246.5 L372.7,247.5 L373.8,248.4 L374.9,249.4 L375.9,250.4 L377.0,251.4 L378.1,252.4 L379.2,253.3 L380.3,254.3 L381.4,255.3 L382.5,256.3 L383.6,257.2 L384.7,258.2 L385.7,259.2 L386.8,260.2 L387.9,261.1 L389.0,262.1 L390.1,263.1 L391.2,264.0 L392.3,265.0 L393.4,266.0 L394.5,266.9 L395.6,267.9 L396.7,268.8 L397.9,269.8 L399.0,270.7 L400.1,271.7 L401.2,272.7 L402.3,273.6 L403.4,274.6 L404.5,275.5 L405.6,276.4 L406.8,277.4 L407.9,278.3 L409.0,279.3 L410.1,280.2 L411.2,281.1 L412.4,282.1 L413.5,283.0 L414.6,283.9 L415.8,284.9 L416.9,285.8 L418.0,286.7 L419.2,287.6 L420.3,288.5 L421.4,289.5 L422.6,290.4 L423.7,291.3 L424.9,292.2 L426.0,293.1 L427.1,294.0 L428.3,294.9 L429.4,295.8 L430.6,296.7 L431.8,297.6 L432.9,298.5 L434.1,299.3 L435.2,300.2 L436.4,301.1 L437.6,302.0 L438.7,302.9 L439.9,303.7 L441.1,304.6 L442.2,305.5 L443.4,306.3 L444.6,307.2 L445.8,308.0 L446.9,308.9 L448.1,309.7 L449.3,310.6 L450.5,311.4 L451.7,312.3 L452.9,313.1 L454.1,313.9 L455.3,314.8 L456.5,315.6 L457.7,316.4 L458.9,317.2 L460.1,318.0 L461.3,318.8 L462.5,319.7 L463.7,320.5 L464.9,321.3 L466.1,322.1 L467.4,322.8 L468.6,323.6 L469.8,324.4 L471.0,325.2 L472.3,326.0 L473.5,326.8 L474.7,327.5 L476.0,328.3 L477.2,329.1 L478.4,329.8 L479.7,330.6 L480.9,331.4 L482.2,332.1 L483.4,332.9 L484.7,333.6 L485.9,334.3 L487.2,335.1 L488.4,335.8 L489.7,336.6 L490.9,337.3 L492.2,338.0 L493.4,338.7 L494.7,339.5 L496.0,340.2 L497.2,340.9 L498.5,341.6 L499.8,342.3 L501.1,343.0 L502.3,343.7 L503.6,344.4 L504.9,345.1 L506.2,345.8 L507.5,346.5 L508.7,347.2 L510.0,347.9 L511.3,348.6 L512.6,349.3 L513.9,349.9 L515.2,350.6 L516.5,351.3 L517.8,352.0 L519.1,352.6 L469.4,352.1 L468.3,351.4 L467.1,350.6 L465.9,349.8 L464.8,349.0 L463.6,348.2 L462.5,347.4 L461.3,346.6 L460.2,345.7 L459.0,344.9 L457.9,344.1 L456.8,343.3 L455.6,342.4 L454.5,341.6 L453.4,340.7 L452.3,339.9 L451.1,339.0 L450.0,338.2 L448.9,337.3 L447.8,336.5 L446.7,335.6 L445.6,334.7 L444.5,333.9 L443.3,333.0 L442.2,332.1 L441.1,331.2 L440.0,330.4 L438.9,329.5 L437.8,328.6 L436.7,327.7 L435.6,326.8 L434.5,325.9 L433.4,325.1 L432.3,324.2 L431.2,323.3 L430.2,322.4 L429.1,321.5 L428.0,320.6 L426.9,319.7 L425.8,318.8 L424.7,317.9 L423.6,317.0 L422.5,316.2 L421.4,315.3 L420.3,314.4 L419.2,313.5 L418.2,312.6 L417.1,311.7 L416.0,310.8 L414.9,310.0 L413.8,309.1 L412.7,308.2 L411.6,307.3 L410.5,306.4 L409.5,305.5 L408.4,304.6 L407.3,303.7 L406.2,302.8 L405.2,301.9 L404.1,301.0 L403.0,300.1 L402.0,299.2 L400.9,298.2 L399.8,297.3 L398.8,296.4 L397.7,295.5 L396.7,294.6 L395.6,293.6 L394.6,292.7 L393.5,291.8 L392.5,290.8 L391.5,289.9 L390.4,288.9 L389.4,288.0 L388.4,287.0 L387.4,286.1 L386.3,285.1 L385.3,284.1 L384.3,283.2 L383.3,282.2 L382.3,281.2 L381.3,280.3 L380.3,279.3 L379.3,278.3 L378.3,277.3 L377.3,276.3 L376.3,275.3 L375.3,274.3 L374.3,273.3 L373.3,272.3 L372.3,271.3 L371.4,270.3 L370.4,269.3 L369.4,268.3 L368.4,267.3 L367.5,266.3 L366.5,265.2 L365.5,264.2 L364.6,263.2 L363.6,262.2 L362.7,261.1 L361.7,260.1 L360.8,259.1 L359.8,258.0 L358.9,257.0 L357.9,255.9 L357.0,254.9 L356.1,253.8 L355.1,252.8 L354.2,251.7 L353.3,250.7 L352.3,249.6 L351.4,248.6 L350.5,247.5 L349.5,246.4 L348.6,245.4 L347.7,244.3 L346.8,243.2 L345.9,242.2 L344.9,241.1 L344.0,240.0 L343.1,239.0 L342.2,237.9 L341.3,236.8 L340.4,235.7 L339.5,234.7 L338.6,233.6 L337.7,232.5 L336.8,231.4 L335.9,230.3 L335.0,229.2 L334.1,228.2 L333.2,227.1 L332.3,226.0 L331.4,224.9 L330.5,223.8 L329.6,222.7 L328.7,221.6 L327.8,220.6 L327.0,219.5 L326.1,218.4 L325.2,217.3 L324.3,216.2 L323.4,215.1 L322.5,214.0 L321.7,212.9 L320.8,211.8 L319.9,210.7 L319.0,209.6 L318.1,208.5 L317.3,207.5 L316.4,206.4 L315.5,205.3 L314.6,204.2 L313.8,203.1 L312.9,202.0 L312.0,200.9 L311.1,199.8 L310.3,198.7 L309.4,197.6 L308.5,196.5 L307.7,195.2 L287.8,165.3 Z" fill="url(#crimL)" opacity="0.333"/><path d="M287.8,165.3 L288.9,166.2 L289.9,167.2 L290.9,168.3 L292.0,169.4 L293.0,170.4 L294.0,171.5 L295.0,172.6 L296.0,173.6 L297.0,174.7 L298.0,175.7 L299.1,176.8 L300.1,177.8 L301.1,178.9 L302.1,179.9 L303.1,181.0 L304.2,182.0 L305.2,183.1 L306.2,184.1 L307.2,185.2 L308.3,186.2 L309.3,187.2 L310.3,188.3 L311.3,189.3 L312.4,190.3 L313.4,191.4 L314.4,192.4 L315.5,193.4 L316.5,194.4 L317.6,195.5 L318.6,196.5 L319.6,197.5 L320.7,198.5 L321.7,199.6 L322.8,200.6 L323.8,201.6 L324.8,202.6 L325.9,203.6 L326.9,204.6 L328.0,205.7 L329.0,206.7 L330.1,207.7 L331.1,208.7 L332.2,209.7 L333.2,210.7 L334.3,211.7 L335.3,212.7 L336.4,213.7 L337.4,214.7 L338.5,215.7 L339.5,216.7 L340.6,217.7 L341.7,218.7 L342.7,219.7 L343.8,220.7 L344.8,221.7 L345.9,222.7 L347.0,223.7 L348.0,224.7 L349.1,225.7 L350.2,226.7 L351.2,227.7 L352.3,228.7 L353.4,229.7 L354.4,230.7 L355.5,231.7 L356.6,232.7 L357.6,233.6 L358.7,234.6 L359.8,235.6 L360.8,236.6 L361.9,237.6 L363.0,238.6 L364.1,239.6 L365.1,240.6 L366.2,241.5 L367.3,242.5 L368.4,243.5 L369.5,244.5 L370.5,245.5 L371.6,246.5 L372.7,247.5 L373.8,248.4 L374.9,249.4 L375.9,250.4 L377.0,251.4 L378.1,252.4 L379.2,253.3 L380.3,254.3 L381.4,255.3 L382.5,256.3 L383.6,257.2 L384.7,258.2 L385.7,259.2 L386.8,260.2 L387.9,261.1 L389.0,262.1 L390.1,263.1 L391.2,264.0 L392.3,265.0 L393.4,266.0 L394.5,266.9 L395.6,267.9 L396.7,268.8 L397.9,269.8 L399.0,270.7 L400.1,271.7 L401.2,272.7 L402.3,273.6 L403.4,274.6 L404.5,275.5 L405.6,276.4 L406.8,277.4 L407.9,278.3 L409.0,279.3 L410.1,280.2 L411.2,281.1 L412.4,282.1 L413.5,283.0 L414.6,283.9 L415.8,284.9 L416.9,285.8 L418.0,286.7 L419.2,287.6 L420.3,288.5 L421.4,289.5 L422.6,290.4 L423.7,291.3 L424.9,292.2 L426.0,293.1 L427.1,294.0 L428.3,294.9 L429.4,295.8 L430.6,296.7 L431.8,297.6 L432.9,298.5 L434.1,299.3 L435.2,300.2 L436.4,301.1 L437.6,302.0 L438.7,302.9 L439.9,303.7 L441.1,304.6 L442.2,305.5 L443.4,306.3 L444.6,307.2 L445.8,308.0 L446.9,308.9 L448.1,309.7 L449.3,310.6 L450.5,311.4 L451.7,312.3 L452.9,313.1 L454.1,313.9 L455.3,314.8 L456.5,315.6 L457.7,316.4 L458.9,317.2 L460.1,318.0 L461.3,318.8 L462.5,319.7 L463.7,320.5 L464.9,321.3 L466.1,322.1 L467.4,322.8 L468.6,323.6 L469.8,324.4 L471.0,325.2 L472.3,326.0 L473.5,326.8 L474.7,327.5 L476.0,328.3 L477.2,329.1 L478.4,329.8 L479.7,330.6 L480.9,331.4 L482.2,332.1 L483.4,332.9 L484.7,333.6 L485.9,334.3 L487.2,335.1 L488.4,335.8 L489.7,336.6 L490.9,337.3 L492.2,338.0 L493.4,338.7 L494.7,339.5 L496.0,340.2 L497.2,340.9 L498.5,341.6 L499.8,342.3 L501.1,343.0 L502.3,343.7 L503.6,344.4 L504.9,345.1 L506.2,345.8 L507.5,346.5 L508.7,347.2 L510.0,347.9 L511.3,348.6 L512.6,349.3 L513.9,349.9 L515.2,350.6 L516.5,351.3 L517.8,352.0 L519.1,352.6 L469.1,350.1 L467.9,349.3 L466.8,348.6 L465.6,347.8 L464.5,347.0 L463.3,346.2 L462.2,345.3 L461.1,344.5 L459.9,343.7 L458.8,342.9 L457.7,342.1 L456.5,341.2 L455.4,340.4 L454.3,339.5 L453.2,338.7 L452.0,337.9 L450.9,337.0 L449.8,336.1 L448.7,335.3 L447.6,334.4 L446.5,333.6 L445.4,332.7 L444.3,331.8 L443.2,330.9 L442.1,330.1 L441.0,329.2 L439.9,328.3 L438.8,327.4 L437.7,326.5 L436.6,325.7 L435.5,324.8 L434.4,323.9 L433.3,323.0 L432.2,322.1 L431.1,321.2 L430.0,320.3 L428.9,319.4 L427.8,318.6 L426.7,317.7 L425.6,316.8 L424.6,315.9 L423.5,315.0 L422.4,314.1 L421.3,313.2 L420.2,312.3 L419.1,311.4 L418.0,310.6 L416.9,309.7 L415.8,308.8 L414.7,307.9 L413.7,307.0 L412.6,306.1 L411.5,305.2 L410.4,304.3 L409.3,303.4 L408.3,302.5 L407.2,301.6 L406.1,300.7 L405.1,299.8 L404.0,298.9 L402.9,298.0 L401.9,297.1 L400.8,296.2 L399.8,295.3 L398.7,294.4 L397.7,293.4 L396.6,292.5 L395.6,291.6 L394.6,290.6 L393.5,289.7 L392.5,288.8 L391.5,287.8 L390.4,286.9 L389.4,285.9 L388.4,285.0 L387.4,284.0 L386.3,283.1 L385.3,282.1 L384.3,281.1 L383.3,280.2 L382.3,279.2 L381.3,278.2 L380.3,277.2 L379.3,276.3 L378.3,275.3 L377.3,274.3 L376.4,273.3 L375.4,272.3 L374.4,271.3 L373.4,270.3 L372.4,269.3 L371.5,268.3 L370.5,267.3 L369.5,266.3 L368.6,265.2 L367.6,264.2 L366.6,263.2 L365.7,262.2 L364.7,261.1 L363.8,260.1 L362.8,259.1 L361.9,258.1 L360.9,257.0 L360.0,256.0 L359.1,254.9 L358.1,253.9 L357.2,252.8 L356.2,251.8 L355.3,250.7 L354.4,249.7 L353.4,248.6 L352.5,247.6 L351.6,246.5 L350.7,245.5 L349.8,244.4 L348.8,243.3 L347.9,242.3 L347.0,241.2 L346.1,240.1 L345.2,239.1 L344.3,238.0 L343.4,236.9 L342.5,235.8 L341.5,234.8 L340.6,233.7 L339.7,232.6 L338.8,231.5 L337.9,230.5 L337.0,229.4 L336.1,228.3 L335.2,227.2 L334.4,226.1 L333.5,225.0 L332.6,224.0 L331.7,222.9 L330.8,221.8 L329.9,220.7 L329.0,219.6 L328.1,218.5 L327.2,217.4 L326.4,216.3 L325.5,215.2 L324.6,214.2 L323.7,213.1 L322.8,212.0 L321.9,210.9 L321.1,209.8 L320.2,208.7 L319.3,207.6 L318.4,206.5 L317.6,205.4 L316.7,204.3 L315.8,203.2 L314.9,202.2 L314.1,201.1 L313.2,200.0 L312.3,198.9 L311.4,197.8 L310.6,196.7 L309.7,195.7 L309.1,194.4 L287.8,165.3 Z" fill="url(#crimL)" opacity="0.5"/><path d="M287.8,165.3 L288.9,166.2 L289.9,167.2 L290.9,168.3 L292.0,169.4 L293.0,170.4 L294.0,171.5 L295.0,172.6 L296.0,173.6 L297.0,174.7 L298.0,175.7 L299.1,176.8 L300.1,177.8 L301.1,178.9 L302.1,179.9 L303.1,181.0 L304.2,182.0 L305.2,183.1 L306.2,184.1 L307.2,185.2 L308.3,186.2 L309.3,187.2 L310.3,188.3 L311.3,189.3 L312.4,190.3 L313.4,191.4 L314.4,192.4 L315.5,193.4 L316.5,194.4 L317.6,195.5 L318.6,196.5 L319.6,197.5 L320.7,198.5 L321.7,199.6 L322.8,200.6 L323.8,201.6 L324.8,202.6 L325.9,203.6 L326.9,204.6 L328.0,205.7 L329.0,206.7 L330.1,207.7 L331.1,208.7 L332.2,209.7 L333.2,210.7 L334.3,211.7 L335.3,212.7 L336.4,213.7 L337.4,214.7 L338.5,215.7 L339.5,216.7 L340.6,217.7 L341.7,218.7 L342.7,219.7 L343.8,220.7 L344.8,221.7 L345.9,222.7 L347.0,223.7 L348.0,224.7 L349.1,225.7 L350.2,226.7 L351.2,227.7 L352.3,228.7 L353.4,229.7 L354.4,230.7 L355.5,231.7 L356.6,232.7 L357.6,233.6 L358.7,234.6 L359.8,235.6 L360.8,236.6 L361.9,237.6 L363.0,238.6 L364.1,239.6 L365.1,240.6 L366.2,241.5 L367.3,242.5 L368.4,243.5 L369.5,244.5 L370.5,245.5 L371.6,246.5 L372.7,247.5 L373.8,248.4 L374.9,249.4 L375.9,250.4 L377.0,251.4 L378.1,252.4 L379.2,253.3 L380.3,254.3 L381.4,255.3 L382.5,256.3 L383.6,257.2 L384.7,258.2 L385.7,259.2 L386.8,260.2 L387.9,261.1 L389.0,262.1 L390.1,263.1 L391.2,264.0 L392.3,265.0 L393.4,266.0 L394.5,266.9 L395.6,267.9 L396.7,268.8 L397.9,269.8 L399.0,270.7 L400.1,271.7 L401.2,272.7 L402.3,273.6 L403.4,274.6 L404.5,275.5 L405.6,276.4 L406.8,277.4 L407.9,278.3 L409.0,279.3 L410.1,280.2 L411.2,281.1 L412.4,282.1 L413.5,283.0 L414.6,283.9 L415.8,284.9 L416.9,285.8 L418.0,286.7 L419.2,287.6 L420.3,288.5 L421.4,289.5 L422.6,290.4 L423.7,291.3 L424.9,292.2 L426.0,293.1 L427.1,294.0 L428.3,294.9 L429.4,295.8 L430.6,296.7 L431.8,297.6 L432.9,298.5 L434.1,299.3 L435.2,300.2 L436.4,301.1 L437.6,302.0 L438.7,302.9 L439.9,303.7 L441.1,304.6 L442.2,305.5 L443.4,306.3 L444.6,307.2 L445.8,308.0 L446.9,308.9 L448.1,309.7 L449.3,310.6 L450.5,311.4 L451.7,312.3 L452.9,313.1 L454.1,313.9 L455.3,314.8 L456.5,315.6 L457.7,316.4 L458.9,317.2 L460.1,318.0 L461.3,318.8 L462.5,319.7 L463.7,320.5 L464.9,321.3 L466.1,322.1 L467.4,322.8 L468.6,323.6 L469.8,324.4 L471.0,325.2 L472.3,326.0 L473.5,326.8 L474.7,327.5 L476.0,328.3 L477.2,329.1 L478.4,329.8 L479.7,330.6 L480.9,331.4 L482.2,332.1 L483.4,332.9 L484.7,333.6 L485.9,334.3 L487.2,335.1 L488.4,335.8 L489.7,336.6 L490.9,337.3 L492.2,338.0 L493.4,338.7 L494.7,339.5 L496.0,340.2 L497.2,340.9 L498.5,341.6 L499.8,342.3 L501.1,343.0 L502.3,343.7 L503.6,344.4 L504.9,345.1 L506.2,345.8 L507.5,346.5 L508.7,347.2 L510.0,347.9 L511.3,348.6 L512.6,349.3 L513.9,349.9 L515.2,350.6 L516.5,351.3 L517.8,352.0 L519.1,352.6 L469.9,348.9 L468.8,348.1 L467.6,347.3 L466.5,346.5 L465.3,345.7 L464.2,344.9 L463.1,344.1 L461.9,343.3 L460.8,342.5 L459.7,341.7 L458.6,340.9 L457.4,340.0 L456.3,339.2 L455.2,338.3 L454.1,337.5 L453.0,336.7 L451.8,335.8 L450.7,335.0 L449.6,334.1 L448.5,333.2 L447.4,332.4 L446.3,331.5 L445.2,330.6 L444.1,329.8 L443.0,328.9 L441.9,328.0 L440.8,327.1 L439.7,326.3 L438.6,325.4 L437.5,324.5 L436.4,323.6 L435.3,322.7 L434.2,321.8 L433.1,320.9 L432.1,320.1 L431.0,319.2 L429.9,318.3 L428.8,317.4 L427.7,316.5 L426.6,315.6 L425.5,314.7 L424.4,313.8 L423.3,312.9 L422.2,312.1 L421.1,311.2 L420.0,310.3 L419.0,309.4 L417.9,308.5 L416.8,307.6 L415.7,306.7 L414.6,305.9 L413.5,305.0 L412.5,304.1 L411.4,303.2 L410.3,302.3 L409.2,301.4 L408.2,300.5 L407.1,299.6 L406.0,298.7 L405.0,297.8 L403.9,296.9 L402.9,296.0 L401.8,295.1 L400.8,294.1 L399.7,293.2 L398.7,292.3 L397.6,291.4 L396.6,290.5 L395.6,289.5 L394.5,288.6 L393.5,287.7 L392.5,286.7 L391.4,285.8 L390.4,284.8 L389.4,283.9 L388.4,282.9 L387.4,282.0 L386.4,281.0 L385.4,280.1 L384.4,279.1 L383.4,278.1 L382.4,277.1 L381.4,276.2 L380.4,275.2 L379.4,274.2 L378.4,273.2 L377.4,272.2 L376.4,271.2 L375.5,270.2 L374.5,269.2 L373.5,268.2 L372.5,267.2 L371.6,266.2 L370.6,265.2 L369.7,264.2 L368.7,263.2 L367.7,262.2 L366.8,261.2 L365.8,260.1 L364.9,259.1 L363.9,258.1 L363.0,257.0 L362.0,256.0 L361.1,255.0 L360.2,253.9 L359.2,252.9 L358.3,251.8 L357.4,250.8 L356.4,249.7 L355.5,248.7 L354.6,247.6 L353.7,246.6 L352.7,245.5 L351.8,244.5 L350.9,243.4 L350.0,242.4 L349.1,241.3 L348.1,240.2 L347.2,239.2 L346.3,238.1 L345.4,237.0 L344.5,236.0 L343.6,234.9 L342.7,233.8 L341.8,232.7 L340.9,231.7 L340.0,230.6 L339.1,229.5 L338.2,228.4 L337.3,227.3 L336.4,226.3 L335.5,225.2 L334.6,224.1 L333.7,223.0 L332.8,221.9 L331.9,220.8 L331.1,219.7 L330.2,218.7 L329.3,217.6 L328.4,216.5 L327.5,215.4 L326.6,214.3 L325.8,213.2 L324.9,212.1 L324.0,211.0 L323.1,209.9 L322.2,208.8 L321.4,207.8 L320.5,206.7 L319.6,205.6 L318.7,204.5 L317.8,203.4 L317.0,202.3 L316.1,201.2 L315.2,200.1 L314.3,199.0 L313.5,197.9 L312.6,196.9 L311.7,195.8 L311.0,194.8 L310.4,193.7 L287.8,165.3 Z" fill="url(#crimL)"/></g>
<g clip-path="url(#cpR)"><path d="M287.8,165.3 L288.9,166.2 L289.9,167.2 L290.9,168.3 L292.0,169.4 L293.0,170.4 L294.0,171.5 L295.0,172.6 L296.0,173.6 L297.0,174.7 L298.0,175.7 L299.1,176.8 L300.1,177.8 L301.1,178.9 L302.1,179.9 L303.1,181.0 L304.2,182.0 L305.2,183.1 L306.2,184.1 L307.2,185.2 L308.3,186.2 L309.3,187.2 L310.3,188.3 L311.3,189.3 L312.4,190.3 L313.4,191.4 L314.4,192.4 L315.5,193.4 L316.5,194.4 L317.6,195.5 L318.6,196.5 L319.6,197.5 L320.7,198.5 L321.7,199.6 L322.8,200.6 L323.8,201.6 L324.8,202.6 L325.9,203.6 L326.9,204.6 L328.0,205.7 L329.0,206.7 L330.1,207.7 L331.1,208.7 L332.2,209.7 L333.2,210.7 L334.3,211.7 L335.3,212.7 L336.4,213.7 L337.4,214.7 L338.5,215.7 L339.5,216.7 L340.6,217.7 L341.7,218.7 L342.7,219.7 L343.8,220.7 L344.8,221.7 L345.9,222.7 L347.0,223.7 L348.0,224.7 L349.1,225.7 L350.2,226.7 L351.2,227.7 L352.3,228.7 L353.4,229.7 L354.4,230.7 L355.5,231.7 L356.6,232.7 L357.6,233.6 L358.7,234.6 L359.8,235.6 L360.8,236.6 L361.9,237.6 L363.0,238.6 L364.1,239.6 L365.1,240.6 L366.2,241.5 L367.3,242.5 L368.4,243.5 L369.5,244.5 L370.5,245.5 L371.6,246.5 L372.7,247.5 L373.8,248.4 L374.9,249.4 L375.9,250.4 L377.0,251.4 L378.1,252.4 L379.2,253.3 L380.3,254.3 L381.4,255.3 L382.5,256.3 L383.6,257.2 L384.7,258.2 L385.7,259.2 L386.8,260.2 L387.9,261.1 L389.0,262.1 L390.1,263.1 L391.2,264.0 L392.3,265.0 L393.4,266.0 L394.5,266.9 L395.6,267.9 L396.7,268.8 L397.9,269.8 L399.0,270.7 L400.1,271.7 L401.2,272.7 L402.3,273.6 L403.4,274.6 L404.5,275.5 L405.6,276.4 L406.8,277.4 L407.9,278.3 L409.0,279.3 L410.1,280.2 L411.2,281.1 L412.4,282.1 L413.5,283.0 L414.6,283.9 L415.8,284.9 L416.9,285.8 L418.0,286.7 L419.2,287.6 L420.3,288.5 L421.4,289.5 L422.6,290.4 L423.7,291.3 L424.9,292.2 L426.0,293.1 L427.1,294.0 L428.3,294.9 L429.4,295.8 L430.6,296.7 L431.8,297.6 L432.9,298.5 L434.1,299.3 L435.2,300.2 L436.4,301.1 L437.6,302.0 L438.7,302.9 L439.9,303.7 L441.1,304.6 L442.2,305.5 L443.4,306.3 L444.6,307.2 L445.8,308.0 L446.9,308.9 L448.1,309.7 L449.3,310.6 L450.5,311.4 L451.7,312.3 L452.9,313.1 L454.1,313.9 L455.3,314.8 L456.5,315.6 L457.7,316.4 L458.9,317.2 L460.1,318.0 L461.3,318.8 L462.5,319.7 L463.7,320.5 L464.9,321.3 L466.1,322.1 L467.4,322.8 L468.6,323.6 L469.8,324.4 L471.0,325.2 L472.3,326.0 L473.5,326.8 L474.7,327.5 L476.0,328.3 L477.2,329.1 L478.4,329.8 L479.7,330.6 L480.9,331.4 L482.2,332.1 L483.4,332.9 L484.7,333.6 L485.9,334.3 L487.2,335.1 L488.4,335.8 L489.7,336.6 L490.9,337.3 L492.2,338.0 L493.4,338.7 L494.7,339.5 L496.0,340.2 L497.2,340.9 L498.5,341.6 L499.8,342.3 L501.1,343.0 L502.3,343.7 L503.6,344.4 L504.9,345.1 L506.2,345.8 L507.5,346.5 L508.7,347.2 L510.0,347.9 L511.3,348.6 L512.6,349.3 L513.9,349.9 L515.2,350.6 L516.5,351.3 L517.8,352.0 L519.1,352.6 L520.4,353.3 L521.7,353.9 L523.0,354.6 L524.3,355.3 L525.6,355.9 L526.9,356.6 L528.2,357.2 L529.6,357.9 L530.9,358.5 L532.2,359.1 L533.5,359.8 L534.8,360.4 L536.2,361.0 L537.5,361.7 L538.8,362.3 L540.1,362.9 L541.5,363.5 L542.8,364.2 L544.1,364.8 L545.5,365.4 L546.8,366.0 L548.1,366.6 L549.5,367.2 L550.8,367.8 L552.2,368.4 L553.5,369.0 L554.9,369.6 L556.2,370.1 L557.6,370.7 L558.9,371.3 L560.3,371.8 L561.6,372.4 L563.0,372.9 L564.4,373.5 L565.7,374.0 L567.1,374.5 L568.4,375.0 L569.8,375.6 L571.2,376.1 L572.6,376.5 L573.9,377.0 L575.3,377.5 L576.7,378.0 L578.1,378.4 L579.5,378.9 L580.9,379.3 L582.3,379.8 L583.7,380.2 L585.1,380.6 L586.5,381.0 L587.9,381.4 L589.3,381.8 L590.7,382.1 L592.1,382.5 L593.5,382.8 L594.9,383.2 L596.3,383.5 L597.7,383.8 L599.2,384.1 L600.6,384.4 L602.0,384.6 L603.5,384.9 L604.9,385.1 L606.3,385.3 L607.8,385.6 L609.2,385.8 L610.6,386.0 L612.1,386.2 L613.5,386.3 L615.0,386.5 L616.4,386.6 L617.9,386.8 L619.3,386.9 L620.8,387.0 L622.3,387.1 L623.7,387.2 L625.2,387.3 L626.6,387.4 L628.1,387.5 L629.5,387.5 L631.0,387.6 L632.5,387.6 L633.9,387.6 L635.4,387.7 L636.9,387.7 L638.3,387.7 L639.8,387.7 L641.2,387.6 L642.7,387.6 L644.2,387.6 L645.6,387.5 L647.1,387.5 L648.5,387.4 L650.0,387.5 L740.0,387.7 L868.1,389.2 L885.6,416.2 L740.0,414.5 L658.0,414.1 L650.0,414.1 L648.6,414.0 L647.2,414.0 L645.8,414.0 L644.4,414.0 L643.0,414.1 L641.6,414.1 L640.2,414.1 L638.8,414.1 L637.4,414.0 L636.0,414.0 L634.6,414.0 L633.1,414.0 L631.7,414.0 L630.3,413.9 L628.9,413.9 L627.5,413.8 L626.1,413.8 L624.7,413.7 L623.3,413.6 L621.9,413.5 L620.5,413.4 L619.1,413.3 L617.7,413.2 L616.3,413.1 L614.9,412.9 L613.5,412.8 L612.1,412.6 L610.7,412.4 L609.3,412.2 L608.0,412.0 L606.6,411.8 L605.2,411.5 L603.8,411.3 L602.5,411.0 L601.1,410.7 L599.7,410.4 L598.4,410.1 L597.0,409.8 L595.7,409.5 L594.3,409.1 L593.0,408.7 L591.6,408.4 L590.3,408.0 L588.9,407.6 L587.6,407.2 L586.3,406.7 L584.9,406.3 L583.6,405.9 L582.3,405.4 L580.9,405.0 L579.6,404.5 L578.3,404.0 L577.0,403.5 L575.7,403.0 L574.3,402.5 L573.0,402.0 L571.7,401.5 L570.4,401.0 L569.1,400.5 L567.8,400.0 L566.5,399.5 L565.2,398.9 L563.9,398.4 L562.6,397.9 L561.3,397.3 L559.9,396.8 L558.6,396.2 L557.3,395.7 L556.0,395.2 L554.7,394.6 L553.4,394.1 L552.1,393.5 L550.8,393.0 L549.5,392.4 L548.2,391.9 L546.9,391.3 L545.6,390.8 L544.4,390.2 L543.1,389.7 L541.8,389.1 L540.5,388.6 L539.2,388.0 L537.9,387.4 L536.6,386.9 L535.3,386.3 L534.0,385.7 L532.7,385.2 L531.5,384.6 L530.2,384.0 L528.9,383.4 L527.6,382.9 L526.3,382.3 L525.1,381.7 L523.8,381.1 L522.5,380.5 L521.2,379.9 L520.0,379.3 L518.7,378.7 L517.4,378.1 L516.2,377.5 L514.9,376.9 L513.7,376.3 L512.4,375.7 L511.1,375.1 L509.9,374.4 L508.6,373.8 L507.4,373.2 L506.1,372.5 L504.9,371.9 L503.6,371.3 L502.4,370.6 L501.2,370.0 L499.9,369.3 L498.7,368.7 L497.4,368.0 L496.2,367.3 L495.0,366.7 L493.8,366.0 L492.5,365.3 L491.3,364.6 L490.1,363.9 L488.9,363.3 L487.7,362.6 L486.5,361.9 L485.3,361.2 L484.1,360.4 L482.9,359.7 L481.7,359.0 L480.5,358.3 L479.3,357.6 L478.1,356.8 L476.9,356.1 L475.7,355.3 L474.5,354.6 L473.4,353.8 L472.2,353.1 L471.0,352.3 L469.8,351.5 L468.7,350.7 L467.5,350.0 L466.4,349.2 L465.2,348.4 L464.1,347.6 L462.9,346.8 L461.8,346.0 L460.6,345.1 L459.5,344.3 L458.3,343.5 L457.2,342.7 L456.1,341.8 L455.0,341.0 L453.8,340.1 L452.7,339.3 L451.6,338.4 L450.5,337.6 L449.4,336.7 L448.2,335.9 L447.1,335.0 L446.0,334.1 L444.9,333.3 L443.8,332.4 L442.7,331.5 L441.6,330.7 L440.5,329.8 L439.4,328.9 L438.3,328.0 L437.2,327.1 L436.1,326.2 L435.0,325.4 L433.9,324.5 L432.8,323.6 L431.7,322.7 L430.6,321.8 L429.5,320.9 L428.4,320.0 L427.4,319.1 L426.3,318.2 L425.2,317.4 L424.1,316.5 L423.0,315.6 L421.9,314.7 L420.8,313.8 L419.7,312.9 L418.6,312.0 L417.5,311.1 L416.4,310.3 L415.4,309.4 L414.3,308.5 L413.2,307.6 L412.1,306.7 L411.0,305.8 L409.9,304.9 L408.9,304.0 L407.8,303.1 L406.7,302.2 L405.6,301.3 L404.6,300.4 L403.5,299.5 L402.5,298.6 L401.4,297.7 L400.3,296.8 L399.3,295.8 L398.2,294.9 L397.2,294.0 L396.1,293.1 L395.1,292.1 L394.1,291.2 L393.0,290.3 L392.0,289.3 L390.9,288.4 L389.9,287.4 L388.9,286.5 L387.9,285.5 L386.8,284.6 L385.8,283.6 L384.8,282.6 L383.8,281.7 L382.8,280.7 L381.8,279.7 L380.8,278.8 L379.8,277.8 L378.8,276.8 L377.8,275.8 L376.8,274.8 L375.8,273.8 L374.8,272.8 L373.9,271.8 L372.9,270.8 L371.9,269.8 L370.9,268.8 L370.0,267.8 L369.0,266.8 L368.0,265.8 L367.1,264.7 L366.1,263.7 L365.1,262.7 L364.2,261.7 L363.2,260.6 L362.3,259.6 L361.3,258.6 L360.4,257.5 L359.4,256.5 L358.5,255.4 L357.6,254.4 L356.6,253.3 L355.7,252.3 L354.7,251.2 L353.8,250.2 L352.9,249.1 L352.0,248.1 L351.0,247.0 L350.1,246.0 L349.2,244.9 L348.3,243.8 L347.3,242.8 L346.4,241.7 L345.5,240.6 L344.6,239.6 L343.7,238.5 L342.8,237.4 L341.9,236.3 L341.0,235.3 L340.1,234.2 L339.2,233.1 L338.3,232.0 L337.4,230.9 L336.5,229.9 L335.6,228.8 L334.7,227.7 L333.8,226.6 L332.9,225.5 L332.0,224.4 L331.1,223.3 L330.2,222.3 L329.3,221.2 L328.4,220.1 L327.5,219.0 L326.7,217.9 L325.8,216.8 L324.9,215.7 L324.0,214.6 L323.1,213.5 L322.2,212.4 L321.4,211.4 L320.5,210.3 L319.6,209.2 L318.7,208.1 L317.8,207.0 L317.0,205.9 L316.1,204.8 L315.2,203.7 L314.3,202.6 L313.5,201.5 L312.6,200.4 L311.7,199.4 L310.8,198.3 L310.0,197.2 L309.1,196.1 L308.4,194.8 L287.8,165.3 Z" fill="url(#crimR)"/></g>
<!-- end caps -->
<polygon points="287.6,165.0 308.6,194.8 308.6,210.4 287.6,180.1" fill="#ab1c20"/>
<polygon points="287.6,180.1 308.6,210.4 307.4,226.4 287.4,195.2" fill="#3c7d9a"/>
<!-- axes -->
<g stroke="#58595b" stroke-width="2.8" fill="none">
<line x1="172.5" y1="140.5" x2="172.5" y2="474" stroke-dasharray="8.2 7.65" stroke-dashoffset="-8.1"/>
<line x1="164.3" y1="442.1" x2="950" y2="442.1" stroke-dasharray="8.3 7.537"/>
</g>
<rect x="171.1" y="434.4" width="2.8" height="9.1" fill="#58595b"/>
<rect x="171.1" y="134" width="2.8" height="6.7" fill="#58595b"/>
<path d="M172.4,118 L183.9,138.8 L172.4,134.3 L160.6,138.8 Z" fill="#58595b"/>
<path d="M968.6,443.4 L951.2,432.1 L955.6,443.5 L951.2,455.3 Z" fill="#58595b"/>
<rect x="156" y="441.3" width="1.1" height="1.6" fill="#a0a0a2"/>
<!-- orange dashes -->
<rect x="458.85" y="153.80" width="3.9" height="14.40" fill="#fbb03b"/>
<rect x="458.85" y="181.90" width="3.9" height="14.40" fill="#fbb03b"/>
<rect x="458.85" y="210.00" width="3.9" height="14.40" fill="#fbb03b"/>
<rect x="458.85" y="238.10" width="3.9" height="14.40" fill="#fbb03b"/>
<rect x="458.85" y="266.20" width="3.9" height="14.40" fill="#fbb03b"/>
<rect x="458.85" y="294.30" width="3.9" height="14.40" fill="#fbb03b"/>
<rect x="458.85" y="322.40" width="3.9" height="14.40" fill="#fbb03b"/>
<rect x="458.85" y="350.50" width="3.9" height="14.40" fill="#fbb03b"/>
<rect x="458.85" y="378.60" width="3.9" height="14.40" fill="#fbb03b"/>
<rect x="458.85" y="406.70" width="3.9" height="14.40" fill="#fbb03b"/>
<rect x="458.85" y="434.80" width="3.9" height="14.40" fill="#fbb03b"/>
<rect x="458.85" y="462.90" width="3.9" height="14.40" fill="#fbb03b"/>
<rect x="653.25" y="153.80" width="3.9" height="14.40" fill="#fbb03b"/>
<rect x="653.25" y="181.90" width="3.9" height="14.40" fill="#fbb03b"/>
<rect x="653.25" y="210.00" width="3.9" height="14.40" fill="#fbb03b"/>
<rect x="653.25" y="238.10" width="3.9" height="14.40" fill="#fbb03b"/>
<rect x="653.25" y="266.20" width="3.9" height="14.40" fill="#fbb03b"/>
<rect x="653.25" y="294.30" width="3.9" height="14.40" fill="#fbb03b"/>
<rect x="653.25" y="322.40" width="3.9" height="14.40" fill="#fbb03b"/>
<rect x="653.25" y="350.50" width="3.9" height="14.40" fill="#fbb03b"/>
<rect x="653.25" y="378.60" width="3.9" height="14.40" fill="#fbb03b"/>
<rect x="653.25" y="406.70" width="3.9" height="14.40" fill="#fbb03b"/>
<rect x="653.25" y="434.80" width="3.9" height="14.40" fill="#fbb03b"/>
<rect x="653.25" y="462.90" width="3.9" height="14.40" fill="#fbb03b"/>
<!-- labels -->
<g font-size="29.4" lengthAdjust="spacingAndGlyphs">
<text id="t1" x="98.7" y="177.2" text-anchor="middle" textLength="113.9" lengthAdjust="spacingAndGlyphs">Nhiệt độ</text>
<text id="t2" x="102" y="215.6" text-anchor="middle" textLength="86.9" lengthAdjust="spacingAndGlyphs">phòng</text>
<text id="t3" x="97.6" y="428.9" text-anchor="middle" textLength="114.1" lengthAdjust="spacingAndGlyphs">Nhiệt độ</text>
<text id="t4" x="100.9" y="467.3" text-anchor="middle" textLength="86.1" lengthAdjust="spacingAndGlyphs">cài đặt</text>
<text id="t5" x="179.3" y="511.7" text-anchor="middle" textLength="136.5" lengthAdjust="spacingAndGlyphs">Khởi động</text>
<text id="t6" x="466.25" y="511.7" text-anchor="middle" textLength="99.9" lengthAdjust="spacingAndGlyphs">20 phút</text>
<text id="t7" x="660.2" y="511.7" text-anchor="middle" textLength="100.9" lengthAdjust="spacingAndGlyphs">30 phút</text>
</g>
</svg>
</body></html>
